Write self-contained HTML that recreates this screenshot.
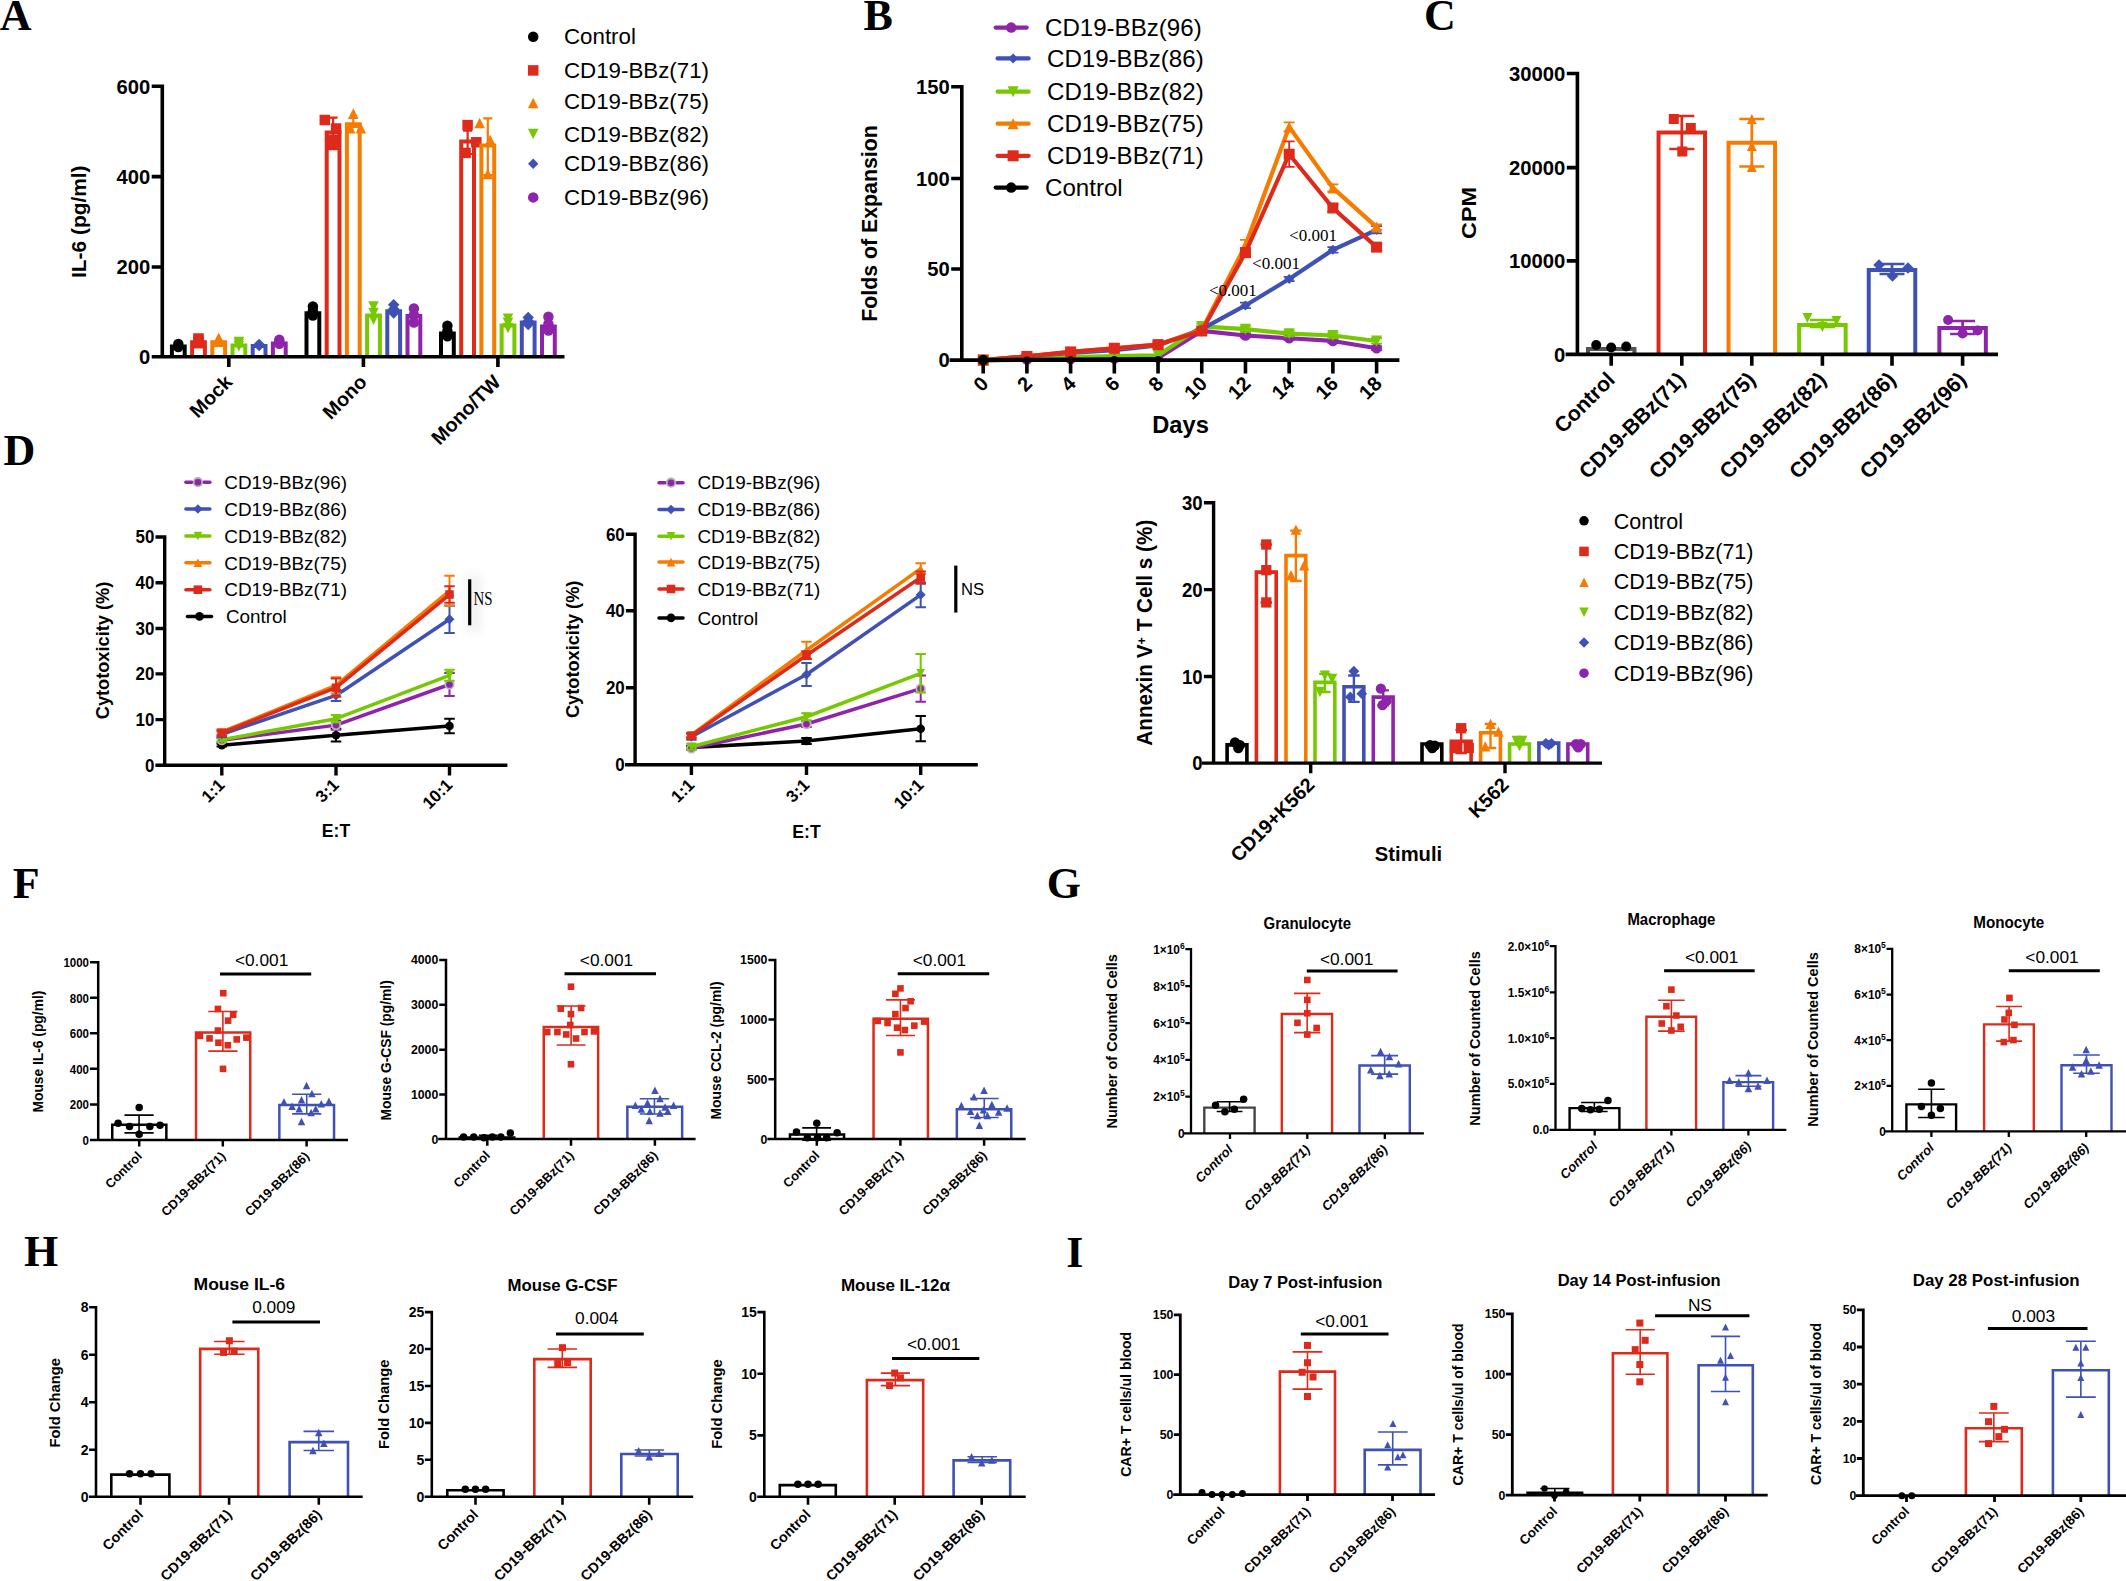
<!DOCTYPE html>
<html lang="en"><head><meta charset="utf-8"><title>Figure</title>
<style>
html,body{margin:0;padding:0;background:#fff}
svg{display:block}
text{font-family:"Liberation Sans",Arial,Helvetica,sans-serif;font-weight:700;fill:#000}
text.sf{font-family:"Liberation Serif","Times New Roman",Times,serif}
text.n{font-weight:400}
text.i{font-style:italic}
text.m{text-anchor:middle}
text.e{text-anchor:end}
</style></head>
<body>
<svg width="2126" height="1581" viewBox="0 0 2126 1581">
<rect width="2126" height="1581" fill="#fff"/>
<text class="sf" x="-0.3" y="29.7" font-size="44">A</text>
<text class="sf" x="863.5" y="29.7" font-size="44">B</text>
<text class="sf" x="1424" y="29.8" font-size="44">C</text>
<text class="sf" x="3.5" y="465" font-size="44">D</text>
<text class="sf" x="12.7" y="898" font-size="44">F</text>
<text class="sf" x="1046.8" y="898" font-size="44">G</text>
<text class="sf" x="24" y="1266.3" font-size="44">H</text>
<text class="sf" x="1066.2" y="1266.9" font-size="44">I</text>
<path d="M171.9 356.8V346.6H184.7V356.8" fill="none" stroke="#000000" stroke-width="4" stroke-linejoin="miter"/>
<circle cx="178.3" cy="344" r="5.25" fill="#000000"/>
<circle cx="178.3" cy="347" r="5.25" fill="#000000"/>
<path d="M192.1 356.8V342.3H204.9V356.8" fill="none" stroke="#DD2A1B" stroke-width="4" stroke-linejoin="miter"/>
<rect x="193.25" y="333.25" width="10.5" height="10.5" fill="#DD2A1B"/>
<rect x="193.25" y="335.75" width="10.5" height="10.5" fill="#DD2A1B"/>
<rect x="193.25" y="337.95" width="10.5" height="10.5" fill="#DD2A1B"/>
<path d="M212.3 356.8V342.3H225.1V356.8" fill="none" stroke="#F57C00" stroke-width="4" stroke-linejoin="miter"/>
<path d="M218.7 332.55L223.95 343.05H213.45Z" fill="#F57C00"/>
<path d="M218.7 334.75L223.95 345.25H213.45Z" fill="#F57C00"/>
<path d="M218.7 336.55L223.95 347.05H213.45Z" fill="#F57C00"/>
<path d="M232.5 356.8V345.4H245.3V356.8" fill="none" stroke="#76C800" stroke-width="4" stroke-linejoin="miter"/>
<path d="M238.9 347.15L244.15 336.65H233.65Z" fill="#76C800"/>
<path d="M238.9 349.25L244.15 338.75H233.65Z" fill="#76C800"/>
<path d="M238.9 351.55L244.15 341.05H233.65Z" fill="#76C800"/>
<path d="M252.7 356.8V346H265.5V356.8" fill="none" stroke="#3F51B5" stroke-width="4" stroke-linejoin="miter"/>
<path d="M259.1 338.65L264.85 344.4L259.1 350.15L253.35 344.4Z" fill="#3F51B5"/>
<path d="M259.1 339.65L264.85 345.4L259.1 351.15L253.35 345.4Z" fill="#3F51B5"/>
<path d="M272.9 356.8V343.5H285.7V356.8" fill="none" stroke="#8E24AA" stroke-width="4" stroke-linejoin="miter"/>
<circle cx="279.3" cy="339.8" r="5.25" fill="#8E24AA"/>
<circle cx="279.3" cy="342" r="5.25" fill="#8E24AA"/>
<circle cx="279.3" cy="343.7" r="5.25" fill="#8E24AA"/>
<path d="M306.5 356.8V313.2H319.3V356.8" fill="none" stroke="#000000" stroke-width="4" stroke-linejoin="miter"/>
<circle cx="312.9" cy="306.4" r="5.25" fill="#000000"/>
<circle cx="312.9" cy="311" r="5.25" fill="#000000"/>
<circle cx="312.9" cy="315.6" r="5.25" fill="#000000"/>
<path d="M326.7 356.8V132.5H339.5V356.8" fill="none" stroke="#DD2A1B" stroke-width="4" stroke-linejoin="miter"/>
<path d="M333.1 117.6V143M328.6 117.6H337.6M328.6 143H337.6" fill="none" stroke="#DD2A1B" stroke-width="2.2"/>
<rect x="319.55" y="114.75" width="10.5" height="10.5" fill="#DD2A1B"/>
<rect x="330.85" y="123.25" width="10.5" height="10.5" fill="#DD2A1B"/>
<rect x="327.85" y="134.75" width="10.5" height="10.5" fill="#DD2A1B"/>
<rect x="327.85" y="139.75" width="10.5" height="10.5" fill="#DD2A1B"/>
<path d="M346.9 356.8V124.3H359.7V356.8" fill="none" stroke="#F57C00" stroke-width="4" stroke-linejoin="miter"/>
<path d="M353.3 118V127M348.8 118H357.8M348.8 127H357.8" fill="none" stroke="#F57C00" stroke-width="2.2"/>
<path d="M353.3 108.35L358.55 118.85H348.05Z" fill="#F57C00"/>
<path d="M360.8 122.95L366.05 133.45H355.55Z" fill="#F57C00"/>
<path d="M350.3 122.95L355.55 133.45H345.05Z" fill="#F57C00"/>
<path d="M367.1 356.8V315.5H379.9V356.8" fill="none" stroke="#76C800" stroke-width="4" stroke-linejoin="miter"/>
<path d="M373.5 311.65L378.75 301.15H368.25Z" fill="#76C800"/>
<path d="M373.5 318.25L378.75 307.75H368.25Z" fill="#76C800"/>
<path d="M373.5 325.05L378.75 314.55H368.25Z" fill="#76C800"/>
<path d="M387.3 356.8V311.3H400.1V356.8" fill="none" stroke="#3F51B5" stroke-width="4" stroke-linejoin="miter"/>
<path d="M393.7 299.05L399.45 304.8L393.7 310.55L387.95 304.8Z" fill="#3F51B5"/>
<path d="M393.7 303.25L399.45 309L393.7 314.75L387.95 309Z" fill="#3F51B5"/>
<path d="M393.7 307.35L399.45 313.1L393.7 318.85L387.95 313.1Z" fill="#3F51B5"/>
<path d="M407.5 356.8V316H420.3V356.8" fill="none" stroke="#8E24AA" stroke-width="4" stroke-linejoin="miter"/>
<circle cx="413.9" cy="308.4" r="5.25" fill="#8E24AA"/>
<circle cx="413.9" cy="315" r="5.25" fill="#8E24AA"/>
<circle cx="413.9" cy="322.5" r="5.25" fill="#8E24AA"/>
<path d="M441 356.8V333.6H453.8V356.8" fill="none" stroke="#000000" stroke-width="4" stroke-linejoin="miter"/>
<circle cx="447.4" cy="325.8" r="5.25" fill="#000000"/>
<circle cx="447.4" cy="331" r="5.25" fill="#000000"/>
<circle cx="447.4" cy="336.3" r="5.25" fill="#000000"/>
<path d="M461.2 356.8V141.5H474V356.8" fill="none" stroke="#DD2A1B" stroke-width="4" stroke-linejoin="miter"/>
<path d="M467.6 130.6V154M463.1 130.6H472.1M463.1 154H472.1" fill="none" stroke="#DD2A1B" stroke-width="2.2"/>
<rect x="462.35" y="119.85" width="10.5" height="10.5" fill="#DD2A1B"/>
<rect x="471.05" y="137.05" width="10.5" height="10.5" fill="#DD2A1B"/>
<rect x="460.35" y="147.65" width="10.5" height="10.5" fill="#DD2A1B"/>
<path d="M481.4 356.8V145.5H494.2V356.8" fill="none" stroke="#F57C00" stroke-width="4" stroke-linejoin="miter"/>
<path d="M487.8 118.3V175.2M483.3 118.3H492.3M483.3 175.2H492.3" fill="none" stroke="#F57C00" stroke-width="2.2"/>
<path d="M479.6 117.75L484.85 128.25H474.35Z" fill="#F57C00"/>
<path d="M490.2 134.75L495.45 145.25H484.95Z" fill="#F57C00"/>
<path d="M487.8 168.75L493.05 179.25H482.55Z" fill="#F57C00"/>
<path d="M501.6 356.8V325.4H514.4V356.8" fill="none" stroke="#76C800" stroke-width="4" stroke-linejoin="miter"/>
<path d="M508 323.95L513.25 313.45H502.75Z" fill="#76C800"/>
<path d="M508 328.25L513.25 317.75H502.75Z" fill="#76C800"/>
<path d="M508 333.25L513.25 322.75H502.75Z" fill="#76C800"/>
<path d="M521.8 356.8V322.6H534.6V356.8" fill="none" stroke="#3F51B5" stroke-width="4" stroke-linejoin="miter"/>
<path d="M528.2 311.75L533.95 317.5L528.2 323.25L522.45 317.5Z" fill="#3F51B5"/>
<path d="M528.2 315.25L533.95 321L528.2 326.75L522.45 321Z" fill="#3F51B5"/>
<path d="M528.2 318.85L533.95 324.6L528.2 330.35L522.45 324.6Z" fill="#3F51B5"/>
<path d="M542 356.8V326.6H554.8V356.8" fill="none" stroke="#8E24AA" stroke-width="4" stroke-linejoin="miter"/>
<circle cx="548.4" cy="316.8" r="5.25" fill="#8E24AA"/>
<circle cx="548.4" cy="324" r="5.25" fill="#8E24AA"/>
<circle cx="548.4" cy="330.5" r="5.25" fill="#8E24AA"/>
<path d="M162.3 84.5V358.6M151.7 356.8H564.5M151.7 86.3H162.3M151.7 176.6H162.3M151.7 267H162.3M151.7 356.8H162.3M228.8 356.8V367.1M363.4 356.8V367.1M497.9 356.8V367.1" fill="none" stroke="#000" stroke-width="3.6"/>
<text class="e" x="150.2" y="93.53" font-size="20.2">600</text>
<text class="e" x="150.2" y="183.83" font-size="20.2">400</text>
<text class="e" x="150.2" y="274.23" font-size="20.2">200</text>
<text class="e" x="150.2" y="364.03" font-size="20.2">0</text>
<text class="e" transform="translate(233.4 383.3) rotate(-45)" font-size="19.7">Mock</text>
<text class="e" transform="translate(367.9 383.3) rotate(-45)" font-size="19.7">Mono</text>
<text class="e" transform="translate(502 383.3) rotate(-45)" font-size="19.7">Mono/TW</text>
<text class="m" transform="translate(85.67 221.7) rotate(-90)" font-size="20.9">IL-6 (pg/ml)</text>
<circle cx="533.2" cy="36.8" r="5.25" fill="#000000"/>
<text class="n" x="564" y="44.28" font-size="22.3">Control</text>
<rect x="527.95" y="65.15" width="10.5" height="10.5" fill="#DD2A1B"/>
<text class="n" x="564" y="77.88" font-size="22.3">CD19-BBz(71)</text>
<path d="M533.2 97.65L538.45 108.15H527.95Z" fill="#F57C00"/>
<text class="n" x="564" y="109.38" font-size="22.3">CD19-BBz(75)</text>
<path d="M533.2 139.35L538.45 128.85H527.95Z" fill="#76C800"/>
<text class="n" x="564" y="141.58" font-size="22.3">CD19-BBz(82)</text>
<path d="M533.2 158.5L538.4 163.7L533.2 168.9L528 163.7Z" fill="#3F51B5"/>
<text class="n" x="564" y="171.18" font-size="22.3">CD19-BBz(86)</text>
<circle cx="533.2" cy="197.4" r="5.25" fill="#8E24AA"/>
<text class="n" x="564" y="204.88" font-size="22.3">CD19-BBz(96)</text>
<polyline fill="none" stroke="#8E24AA" stroke-width="4.2" stroke-linejoin="round" points="983.2,360.1 1026.91,359.55 1070.62,359.01 1114.33,358.64 1158.04,357.91 1201.75,330.95 1245.46,335.5 1289.17,338.24 1332.88,340.97 1376.59,348.26"/>
<path d="M1201.75 329.13V332.77M1196.25 329.13H1207.25M1196.25 332.77H1207.25" fill="none" stroke="#8E24AA" stroke-width="1.8"/>
<path d="M1245.46 333.68V337.33M1239.96 333.68H1250.96M1239.96 337.33H1250.96" fill="none" stroke="#8E24AA" stroke-width="1.8"/>
<path d="M1289.17 336.41V340.06M1283.67 336.41H1294.67M1283.67 340.06H1294.67" fill="none" stroke="#8E24AA" stroke-width="1.8"/>
<path d="M1332.88 339.15V342.79M1327.38 339.15H1338.38M1327.38 342.79H1338.38" fill="none" stroke="#8E24AA" stroke-width="1.8"/>
<path d="M1376.59 346.44V350.08M1371.09 346.44H1382.09M1371.09 350.08H1382.09" fill="none" stroke="#8E24AA" stroke-width="1.8"/>
<circle cx="983.2" cy="360.1" r="5.25" fill="#8E24AA"/>
<circle cx="1026.91" cy="359.55" r="5.25" fill="#8E24AA"/>
<circle cx="1070.62" cy="359.01" r="5.25" fill="#8E24AA"/>
<circle cx="1114.33" cy="358.64" r="5.25" fill="#8E24AA"/>
<circle cx="1158.04" cy="357.91" r="5.25" fill="#8E24AA"/>
<circle cx="1201.75" cy="330.95" r="5.25" fill="#8E24AA"/>
<circle cx="1245.46" cy="335.5" r="5.25" fill="#8E24AA"/>
<circle cx="1289.17" cy="338.24" r="5.25" fill="#8E24AA"/>
<circle cx="1332.88" cy="340.97" r="5.25" fill="#8E24AA"/>
<circle cx="1376.59" cy="348.26" r="5.25" fill="#8E24AA"/>
<polyline fill="none" stroke="#76C800" stroke-width="4.2" stroke-linejoin="round" points="983.2,360.1 1026.91,358.64 1070.62,357.18 1114.33,356.09 1158.04,355.36 1201.75,326.39 1245.46,329.13 1289.17,333.68 1332.88,335.5 1376.59,340.97"/>
<path d="M1201.75 323.66V329.13M1196.25 323.66H1207.25M1196.25 329.13H1207.25" fill="none" stroke="#76C800" stroke-width="1.8"/>
<path d="M1245.46 326.39V331.86M1239.96 326.39H1250.96M1239.96 331.86H1250.96" fill="none" stroke="#76C800" stroke-width="1.8"/>
<path d="M1289.17 330.95V336.41M1283.67 330.95H1294.67M1283.67 336.41H1294.67" fill="none" stroke="#76C800" stroke-width="1.8"/>
<path d="M1332.88 332.77V338.24M1327.38 332.77H1338.38M1327.38 338.24H1338.38" fill="none" stroke="#76C800" stroke-width="1.8"/>
<path d="M1376.59 338.24V343.7M1371.09 338.24H1382.09M1371.09 343.7H1382.09" fill="none" stroke="#76C800" stroke-width="1.8"/>
<path d="M983.2 365.6L988.7 354.6H977.7Z" fill="#76C800"/>
<path d="M1026.91 364.14L1032.41 353.14H1021.41Z" fill="#76C800"/>
<path d="M1070.62 362.68L1076.12 351.68H1065.12Z" fill="#76C800"/>
<path d="M1114.33 361.59L1119.83 350.59H1108.83Z" fill="#76C800"/>
<path d="M1158.04 360.86L1163.54 349.86H1152.54Z" fill="#76C800"/>
<path d="M1201.75 331.89L1207.25 320.89H1196.25Z" fill="#76C800"/>
<path d="M1245.46 334.63L1250.96 323.63H1239.96Z" fill="#76C800"/>
<path d="M1289.17 339.18L1294.67 328.18H1283.67Z" fill="#76C800"/>
<path d="M1332.88 341L1338.38 330H1327.38Z" fill="#76C800"/>
<path d="M1376.59 346.47L1382.09 335.47H1371.09Z" fill="#76C800"/>
<polyline fill="none" stroke="#3F51B5" stroke-width="4.2" stroke-linejoin="round" points="983.2,360.1 1026.91,356.46 1070.62,352.81 1114.33,350.08 1158.04,345.52 1201.75,329.13 1245.46,305.44 1289.17,279.02 1332.88,249.87 1376.59,229.83"/>
<path d="M1245.46 302.71V308.17M1239.96 302.71H1250.96M1239.96 308.17H1250.96" fill="none" stroke="#3F51B5" stroke-width="1.8"/>
<path d="M1289.17 276.83V281.21M1283.67 276.83H1294.67M1283.67 281.21H1294.67" fill="none" stroke="#3F51B5" stroke-width="1.8"/>
<path d="M1332.88 247.14V252.6M1327.38 247.14H1338.38M1327.38 252.6H1338.38" fill="none" stroke="#3F51B5" stroke-width="1.8"/>
<path d="M1376.59 226.18V233.47M1371.09 226.18H1382.09M1371.09 233.47H1382.09" fill="none" stroke="#3F51B5" stroke-width="1.8"/>
<path d="M983.2 355.1L988.2 360.1L983.2 365.1L978.2 360.1Z" fill="#3F51B5"/>
<path d="M1026.91 351.46L1031.91 356.46L1026.91 361.46L1021.91 356.46Z" fill="#3F51B5"/>
<path d="M1070.62 347.81L1075.62 352.81L1070.62 357.81L1065.62 352.81Z" fill="#3F51B5"/>
<path d="M1114.33 345.08L1119.33 350.08L1114.33 355.08L1109.33 350.08Z" fill="#3F51B5"/>
<path d="M1158.04 340.52L1163.04 345.52L1158.04 350.52L1153.04 345.52Z" fill="#3F51B5"/>
<path d="M1201.75 324.13L1206.75 329.13L1201.75 334.13L1196.75 329.13Z" fill="#3F51B5"/>
<path d="M1245.46 300.44L1250.46 305.44L1245.46 310.44L1240.46 305.44Z" fill="#3F51B5"/>
<path d="M1289.17 274.02L1294.17 279.02L1289.17 284.02L1284.17 279.02Z" fill="#3F51B5"/>
<path d="M1332.88 244.87L1337.88 249.87L1332.88 254.87L1327.88 249.87Z" fill="#3F51B5"/>
<path d="M1376.59 224.83L1381.59 229.83L1376.59 234.83L1371.59 229.83Z" fill="#3F51B5"/>
<polyline fill="none" stroke="#F57C00" stroke-width="4.2" stroke-linejoin="round" points="983.2,360.1 1026.91,356.46 1070.62,351.9 1114.33,348.26 1158.04,344.61 1201.75,330.04 1245.46,245.31 1289.17,126.88 1332.88,187.92 1376.59,227.09"/>
<path d="M1245.46 239.85V250.78M1239.96 239.85H1250.96M1239.96 250.78H1250.96" fill="none" stroke="#F57C00" stroke-width="1.8"/>
<path d="M1289.17 122.33V131.44M1283.67 122.33H1294.67M1283.67 131.44H1294.67" fill="none" stroke="#F57C00" stroke-width="1.8"/>
<path d="M1332.88 184.28V191.57M1327.38 184.28H1338.38M1327.38 191.57H1338.38" fill="none" stroke="#F57C00" stroke-width="1.8"/>
<path d="M1376.59 224.36V229.83M1371.09 224.36H1382.09M1371.09 229.83H1382.09" fill="none" stroke="#F57C00" stroke-width="1.8"/>
<path d="M983.2 354.6L988.7 365.6H977.7Z" fill="#F57C00"/>
<path d="M1026.91 350.96L1032.41 361.96H1021.41Z" fill="#F57C00"/>
<path d="M1070.62 346.4L1076.12 357.4H1065.12Z" fill="#F57C00"/>
<path d="M1114.33 342.76L1119.83 353.76H1108.83Z" fill="#F57C00"/>
<path d="M1158.04 339.11L1163.54 350.11H1152.54Z" fill="#F57C00"/>
<path d="M1201.75 324.54L1207.25 335.54H1196.25Z" fill="#F57C00"/>
<path d="M1245.46 239.81L1250.96 250.81H1239.96Z" fill="#F57C00"/>
<path d="M1289.17 121.38L1294.67 132.38H1283.67Z" fill="#F57C00"/>
<path d="M1332.88 182.42L1338.38 193.42H1327.38Z" fill="#F57C00"/>
<path d="M1376.59 221.59L1382.09 232.59H1371.09Z" fill="#F57C00"/>
<polyline fill="none" stroke="#DD2A1B" stroke-width="4.2" stroke-linejoin="round" points="983.2,360.1 1026.91,356.46 1070.62,351.9 1114.33,348.26 1158.04,344.61 1201.75,330.95 1245.46,252.6 1289.17,154.21 1332.88,207.96 1376.59,247.14"/>
<path d="M1026.91 354.63V358.28M1021.41 354.63H1032.41M1021.41 358.28H1032.41" fill="none" stroke="#DD2A1B" stroke-width="1.8"/>
<path d="M1070.62 350.08V353.72M1065.12 350.08H1076.12M1065.12 353.72H1076.12" fill="none" stroke="#DD2A1B" stroke-width="1.8"/>
<path d="M1114.33 346.44V350.08M1108.83 346.44H1119.83M1108.83 350.08H1119.83" fill="none" stroke="#DD2A1B" stroke-width="1.8"/>
<path d="M1158.04 341.88V347.35M1152.54 341.88H1163.54M1152.54 347.35H1163.54" fill="none" stroke="#DD2A1B" stroke-width="1.8"/>
<path d="M1201.75 329.13V332.77M1196.25 329.13H1207.25M1196.25 332.77H1207.25" fill="none" stroke="#DD2A1B" stroke-width="1.8"/>
<path d="M1245.46 248.05V257.16M1239.96 248.05H1250.96M1239.96 257.16H1250.96" fill="none" stroke="#DD2A1B" stroke-width="1.8"/>
<path d="M1289.17 141.46V166.97M1283.67 141.46H1294.67M1283.67 166.97H1294.67" fill="none" stroke="#DD2A1B" stroke-width="1.8"/>
<path d="M1332.88 204.32V211.61M1327.38 204.32H1338.38M1327.38 211.61H1338.38" fill="none" stroke="#DD2A1B" stroke-width="1.8"/>
<path d="M1376.59 243.49V250.78M1371.09 243.49H1382.09M1371.09 250.78H1382.09" fill="none" stroke="#DD2A1B" stroke-width="1.8"/>
<rect x="977.7" y="354.6" width="11" height="11" fill="#DD2A1B"/>
<rect x="1021.41" y="350.96" width="11" height="11" fill="#DD2A1B"/>
<rect x="1065.12" y="346.4" width="11" height="11" fill="#DD2A1B"/>
<rect x="1108.83" y="342.76" width="11" height="11" fill="#DD2A1B"/>
<rect x="1152.54" y="339.11" width="11" height="11" fill="#DD2A1B"/>
<rect x="1196.25" y="325.45" width="11" height="11" fill="#DD2A1B"/>
<rect x="1239.96" y="247.1" width="11" height="11" fill="#DD2A1B"/>
<rect x="1283.67" y="148.71" width="11" height="11" fill="#DD2A1B"/>
<rect x="1327.38" y="202.46" width="11" height="11" fill="#DD2A1B"/>
<rect x="1371.09" y="241.64" width="11" height="11" fill="#DD2A1B"/>
<polyline fill="none" stroke="#000000" stroke-width="4.2" stroke-linejoin="round" points="983.2,360.1 1026.91,359.74 1070.62,359.55 1114.33,359.37 1158.04,359.19"/>
<circle cx="983.2" cy="360.1" r="5.25" fill="#000000"/>
<circle cx="1026.91" cy="359.74" r="3.25" fill="#000000"/>
<circle cx="1070.62" cy="359.55" r="3.25" fill="#000000"/>
<circle cx="1114.33" cy="359.37" r="3.25" fill="#000000"/>
<circle cx="1158.04" cy="359.19" r="3.25" fill="#000000"/>
<path d="M961.8 85V361.9M949.6 360.1H1399.4M951.2 86.8H961.8M951.2 178.5H961.8M951.2 269H961.8M951.2 360.1H961.8M983.2 360.1V373.4M1026.91 360.1V373.4M1070.62 360.1V373.4M1114.33 360.1V373.4M1158.04 360.1V373.4M1201.75 360.1V373.4M1245.46 360.1V373.4M1289.17 360.1V373.4M1332.88 360.1V373.4M1376.59 360.1V373.4" fill="none" stroke="#000" stroke-width="3.6"/>
<text class="e" x="949.7" y="94.03" font-size="20.2">150</text>
<text class="e" x="949.7" y="185.73" font-size="20.2">100</text>
<text class="e" x="949.7" y="276.23" font-size="20.2">50</text>
<text class="e" x="949.7" y="367.33" font-size="20.2">0</text>
<text class="e" transform="translate(989.7 385) rotate(-45)" font-size="20">0</text>
<text class="e" transform="translate(1033.41 385) rotate(-45)" font-size="20">2</text>
<text class="e" transform="translate(1077.12 385) rotate(-45)" font-size="20">4</text>
<text class="e" transform="translate(1120.83 385) rotate(-45)" font-size="20">6</text>
<text class="e" transform="translate(1164.54 385) rotate(-45)" font-size="20">8</text>
<text class="e" transform="translate(1208.25 385) rotate(-45)" font-size="20">10</text>
<text class="e" transform="translate(1251.96 385) rotate(-45)" font-size="20">12</text>
<text class="e" transform="translate(1295.67 385) rotate(-45)" font-size="20">14</text>
<text class="e" transform="translate(1339.38 385) rotate(-45)" font-size="20">16</text>
<text class="e" transform="translate(1383.09 385) rotate(-45)" font-size="20">18</text>
<text class="m" x="1180.5" y="432.7" font-size="23.7">Days</text>
<text class="m" transform="translate(877.39 223.5) rotate(-90)" font-size="21.3">Folds of Expansion</text>
<line x1="995.7" y1="27.6" x2="1026.7" y2="27.6" stroke="#8E24AA" stroke-width="4.2" stroke-linecap="round"/>
<circle cx="1011.2" cy="27.6" r="5.25" fill="#8E24AA"/>
<text class="n" x="1045" y="36.23" font-size="24.1">CD19-BBz(96)</text>
<line x1="997.6" y1="58.4" x2="1028.6" y2="58.4" stroke="#3F51B5" stroke-width="4.2" stroke-linecap="round"/>
<path d="M1013.1 53.4L1018.1 58.4L1013.1 63.4L1008.1 58.4Z" fill="#3F51B5"/>
<text class="n" x="1047" y="67.03" font-size="24.1">CD19-BBz(86)</text>
<line x1="997.6" y1="91.7" x2="1028.6" y2="91.7" stroke="#76C800" stroke-width="4.2" stroke-linecap="round"/>
<path d="M1013.1 97.2L1018.6 86.2H1007.6Z" fill="#76C800"/>
<text class="n" x="1047" y="100.33" font-size="24.1">CD19-BBz(82)</text>
<line x1="997.6" y1="123.7" x2="1028.6" y2="123.7" stroke="#F57C00" stroke-width="4.2" stroke-linecap="round"/>
<path d="M1013.1 118.2L1018.6 129.2H1007.6Z" fill="#F57C00"/>
<text class="n" x="1047" y="132.33" font-size="24.1">CD19-BBz(75)</text>
<line x1="997.6" y1="155.8" x2="1028.6" y2="155.8" stroke="#DD2A1B" stroke-width="4.2" stroke-linecap="round"/>
<rect x="1007.6" y="150.3" width="11" height="11" fill="#DD2A1B"/>
<text class="n" x="1047" y="164.43" font-size="24.1">CD19-BBz(71)</text>
<line x1="995.7" y1="187.6" x2="1026.7" y2="187.6" stroke="#000000" stroke-width="4.2" stroke-linecap="round"/>
<circle cx="1011.2" cy="187.6" r="5.25" fill="#000000"/>
<text class="n" x="1045" y="196.23" font-size="24.1">Control</text>
<text class="sf n m" x="1232.8" y="296.39" font-size="17">&lt;0.001</text>
<text class="sf n m" x="1276" y="269.39" font-size="17">&lt;0.001</text>
<text class="sf n m" x="1313" y="240.89" font-size="17">&lt;0.001</text>
<path d="M1587.95 354.4V349H1634.45V354.4" fill="none" stroke="#555" stroke-width="4" stroke-linejoin="miter"/>
<circle cx="1596.2" cy="345" r="5" fill="#000000"/>
<circle cx="1611.2" cy="347.5" r="5" fill="#000000"/>
<circle cx="1626.2" cy="346.5" r="5" fill="#000000"/>
<path d="M1658.55 354.4V132.6H1705.05V354.4" fill="none" stroke="#DD2A1B" stroke-width="4" stroke-linejoin="miter"/>
<path d="M1681.8 116V149M1669.3 116H1694.3M1669.3 149H1694.3" fill="none" stroke="#DD2A1B" stroke-width="2.7"/>
<rect x="1668.8" y="114" width="10" height="10" fill="#DD2A1B"/>
<rect x="1685.8" y="123" width="10" height="10" fill="#DD2A1B"/>
<rect x="1677.3" y="146.5" width="10" height="10" fill="#DD2A1B"/>
<path d="M1728.55 354.4V142.8H1775.05V354.4" fill="none" stroke="#F57C00" stroke-width="4" stroke-linejoin="miter"/>
<path d="M1751.8 119V166.5M1739.3 119H1764.3M1739.3 166.5H1764.3" fill="none" stroke="#F57C00" stroke-width="2.7"/>
<path d="M1751.8 114L1756.8 124H1746.8Z" fill="#F57C00"/>
<path d="M1751.8 141L1756.8 151H1746.8Z" fill="#F57C00"/>
<path d="M1751.8 162L1756.8 172H1746.8Z" fill="#F57C00"/>
<path d="M1799.15 354.4V325H1845.65V354.4" fill="none" stroke="#76C800" stroke-width="4" stroke-linejoin="miter"/>
<path d="M1822.4 320V327M1809.9 320H1834.9M1809.9 327H1834.9" fill="none" stroke="#76C800" stroke-width="2.7"/>
<path d="M1807.4 323L1812.4 313H1802.4Z" fill="#76C800"/>
<path d="M1822.4 332L1827.4 322H1817.4Z" fill="#76C800"/>
<path d="M1836.4 326L1841.4 316H1831.4Z" fill="#76C800"/>
<path d="M1868.75 354.4V270H1915.25V354.4" fill="none" stroke="#3F51B5" stroke-width="4" stroke-linejoin="miter"/>
<path d="M1892 264V274M1879.5 264H1904.5M1879.5 274H1904.5" fill="none" stroke="#3F51B5" stroke-width="2.7"/>
<path d="M1879 259.25L1884.75 265L1879 270.75L1873.25 265Z" fill="#3F51B5"/>
<path d="M1908 262.25L1913.75 268L1908 273.75L1902.25 268Z" fill="#3F51B5"/>
<path d="M1892.5 270.25L1898.25 276L1892.5 281.75L1886.75 276Z" fill="#3F51B5"/>
<path d="M1939.35 354.4V328H1985.85V354.4" fill="none" stroke="#8E24AA" stroke-width="4" stroke-linejoin="miter"/>
<path d="M1962.6 321V334M1950.1 321H1975.1M1950.1 334H1975.1" fill="none" stroke="#8E24AA" stroke-width="2.7"/>
<circle cx="1948.1" cy="320" r="5" fill="#8E24AA"/>
<circle cx="1962.6" cy="333.5" r="5" fill="#8E24AA"/>
<circle cx="1977.6" cy="330.5" r="5" fill="#8E24AA"/>
<path d="M1577.4 71.7V356.2M1565.6 354.4H1998M1566.8 73.5H1577.4M1566.8 167.6H1577.4M1566.8 260.9H1577.4M1566.8 354.4H1577.4M1611.2 354.4V365.7M1681.8 354.4V365.7M1751.8 354.4V365.7M1822.4 354.4V365.7M1892 354.4V365.7M1962.6 354.4V365.7" fill="none" stroke="#000" stroke-width="3.6"/>
<text class="e" x="1565.3" y="80.77" font-size="20.3">30000</text>
<text class="e" x="1565.3" y="174.87" font-size="20.3">20000</text>
<text class="e" x="1565.3" y="268.17" font-size="20.3">10000</text>
<text class="e" x="1565.3" y="361.67" font-size="20.3">0</text>
<text class="e" transform="translate(1616.2 381) rotate(-45)" font-size="21.2">Control</text>
<text class="e" transform="translate(1686.8 381) rotate(-45)" font-size="21.2">CD19-BBz(71)</text>
<text class="e" transform="translate(1756.8 381) rotate(-45)" font-size="21.2">CD19-BBz(75)</text>
<text class="e" transform="translate(1827.4 381) rotate(-45)" font-size="21.2">CD19-BBz(82)</text>
<text class="e" transform="translate(1897 381) rotate(-45)" font-size="21.2">CD19-BBz(86)</text>
<text class="e" transform="translate(1967.6 381) rotate(-45)" font-size="21.2">CD19-BBz(96)</text>
<text class="m" transform="translate(1476.38 213) rotate(-90)" font-size="20.5" textLength="52" lengthAdjust="spacingAndGlyphs">CPM</text>
<defs><filter id="bl" x="-50%" y="-50%" width="200%" height="200%"><feGaussianBlur stdDeviation="4"/></filter></defs>
<rect x="466" y="574" width="16" height="58" fill="#f3f3f3" filter="url(#bl)"/>
<path d="M221.8 743.84V746.58M216.55 743.84H227.05M216.55 746.58H227.05" fill="none" stroke="#000000" stroke-width="2"/>
<path d="M336 728.77V741.56M330.75 728.77H341.25M330.75 741.56H341.25" fill="none" stroke="#000000" stroke-width="2"/>
<path d="M449.5 718.73V733.34M444.25 718.73H454.75M444.25 733.34H454.75" fill="none" stroke="#000000" stroke-width="2"/>
<polyline fill="none" stroke="#000000" stroke-width="3.5" stroke-linejoin="round" points="221.8,745.21 336,735.16 449.5,726.03"/>
<circle cx="221.8" cy="745.21" r="4.25" fill="#000000"/>
<circle cx="336" cy="735.16" r="4.25" fill="#000000"/>
<circle cx="449.5" cy="726.03" r="4.25" fill="#000000"/>
<path d="M221.8 737.9V742.47M216.55 737.9H227.05M216.55 742.47H227.05" fill="none" stroke="#8E24AA" stroke-width="2"/>
<path d="M336 720.55V729.69M330.75 720.55H341.25M330.75 729.69H341.25" fill="none" stroke="#8E24AA" stroke-width="2"/>
<path d="M449.5 673.07V695.9M444.25 673.07H454.75M444.25 695.9H454.75" fill="none" stroke="#8E24AA" stroke-width="2"/>
<polyline fill="none" stroke="#8E24AA" stroke-width="3.5" stroke-linejoin="round" points="221.8,740.19 336,725.12 449.5,684.48"/>
<circle cx="221.8" cy="740.19" r="4.25" fill="#8E24AA" stroke="#b9b9b9" stroke-width="1.8"/>
<circle cx="336" cy="725.12" r="4.25" fill="#8E24AA" stroke="#b9b9b9" stroke-width="1.8"/>
<circle cx="449.5" cy="684.48" r="4.25" fill="#8E24AA" stroke="#b9b9b9" stroke-width="1.8"/>
<path d="M221.8 737.9V741.56M216.55 737.9H227.05M216.55 741.56H227.05" fill="none" stroke="#76C800" stroke-width="2"/>
<path d="M336 715.07V722.38M330.75 715.07H341.25M330.75 722.38H341.25" fill="none" stroke="#76C800" stroke-width="2"/>
<path d="M449.5 669.87V680.83M444.25 669.87H454.75M444.25 680.83H454.75" fill="none" stroke="#76C800" stroke-width="2"/>
<polyline fill="none" stroke="#76C800" stroke-width="3.5" stroke-linejoin="round" points="221.8,739.73 336,718.73 449.5,675.35"/>
<path d="M221.8 743.98L226.05 735.48H217.55Z" fill="#76C800"/>
<path d="M336 722.98L340.25 714.48H331.75Z" fill="#76C800"/>
<path d="M449.5 679.6L453.75 671.1H445.25Z" fill="#76C800"/>
<path d="M221.8 731.51V736.99M216.55 731.51H227.05M216.55 736.99H227.05" fill="none" stroke="#3F51B5" stroke-width="2"/>
<path d="M336 689.96V700.92M330.75 689.96H341.25M330.75 700.92H341.25" fill="none" stroke="#3F51B5" stroke-width="2"/>
<path d="M449.5 605.49V632.89M444.25 605.49H454.75M444.25 632.89H454.75" fill="none" stroke="#3F51B5" stroke-width="2"/>
<polyline fill="none" stroke="#3F51B5" stroke-width="3.5" stroke-linejoin="round" points="221.8,734.25 336,695.44 449.5,619.19"/>
<path d="M221.8 729.25L226.8 734.25L221.8 739.25L216.8 734.25Z" fill="#3F51B5"/>
<path d="M336 690.44L341 695.44L336 700.44L331 695.44Z" fill="#3F51B5"/>
<path d="M449.5 614.19L454.5 619.19L449.5 624.19L444.5 619.19Z" fill="#3F51B5"/>
<path d="M221.8 729.23V734.71M216.55 729.23H227.05M216.55 734.71H227.05" fill="none" stroke="#F57C00" stroke-width="2"/>
<path d="M336 677.18V693.61M330.75 677.18H341.25M330.75 693.61H341.25" fill="none" stroke="#F57C00" stroke-width="2"/>
<path d="M449.5 575.81V605.95M444.25 575.81H454.75M444.25 605.95H454.75" fill="none" stroke="#F57C00" stroke-width="2"/>
<polyline fill="none" stroke="#F57C00" stroke-width="3.5" stroke-linejoin="round" points="221.8,731.97 336,685.39 449.5,590.88"/>
<path d="M221.8 727.72L226.05 736.22H217.55Z" fill="#F57C00"/>
<path d="M336 681.14L340.25 689.64H331.75Z" fill="#F57C00"/>
<path d="M449.5 586.63L453.75 595.13H445.25Z" fill="#F57C00"/>
<path d="M221.8 730.14V735.62M216.55 730.14H227.05M216.55 735.62H227.05" fill="none" stroke="#DD2A1B" stroke-width="2"/>
<path d="M336 678.55V696.81M330.75 678.55H341.25M330.75 696.81H341.25" fill="none" stroke="#DD2A1B" stroke-width="2"/>
<path d="M449.5 586.31V602.75M444.25 586.31H454.75M444.25 602.75H454.75" fill="none" stroke="#DD2A1B" stroke-width="2"/>
<polyline fill="none" stroke="#DD2A1B" stroke-width="3.5" stroke-linejoin="round" points="221.8,732.88 336,687.68 449.5,594.53"/>
<rect x="217.55" y="728.63" width="8.5" height="8.5" fill="#DD2A1B"/>
<rect x="331.75" y="683.43" width="8.5" height="8.5" fill="#DD2A1B"/>
<rect x="445.25" y="590.28" width="8.5" height="8.5" fill="#DD2A1B"/>
<path d="M164.7 535.3V767M155.4 765.3H507.4M155.5 537H164.7M155.5 582.8H164.7M155.5 628.5H164.7M155.5 673.9H164.7M155.5 719.6H164.7M155.5 765.3H164.7M221.8 765.3V775.5M336 765.3V775.5M449.5 765.3V775.5" fill="none" stroke="#000" stroke-width="3.4"/>
<text class="e" transform="translate(154.3 543.44) scale(0.94 1)" font-size="18">50</text>
<text class="e" transform="translate(154.3 589.24) scale(0.94 1)" font-size="18">40</text>
<text class="e" transform="translate(154.3 634.94) scale(0.94 1)" font-size="18">30</text>
<text class="e" transform="translate(154.3 680.34) scale(0.94 1)" font-size="18">20</text>
<text class="e" transform="translate(154.3 726.04) scale(0.94 1)" font-size="18">10</text>
<text class="e" transform="translate(154.3 771.74) scale(0.94 1)" font-size="18">0</text>
<text class="e" transform="translate(225.8 786) rotate(-45)" font-size="17">1:1</text>
<text class="e" transform="translate(340 786) rotate(-45)" font-size="17">3:1</text>
<text class="e" transform="translate(453.5 786) rotate(-45)" font-size="17">10:1</text>
<text class="m" x="336" y="837.3" font-size="17.6">E:T</text>
<text class="m" transform="translate(108.51 650.5) rotate(-90)" font-size="18.2">Cytotoxicity (%)</text>
<line x1="185.9" y1="482.2" x2="191.9" y2="482.2" stroke="#8E24AA" stroke-width="3.5" stroke-linecap="round"/>
<line x1="203.9" y1="482.2" x2="209.9" y2="482.2" stroke="#8E24AA" stroke-width="3.5" stroke-linecap="round"/>
<circle cx="197.9" cy="482.2" r="4.2" fill="#8E24AA" stroke="#b0b0b0" stroke-width="1.8"/>
<text class="n" x="224.3" y="488.97" font-size="18.9">CD19-BBz(96)</text>
<line x1="185.9" y1="509.1" x2="209.9" y2="509.1" stroke="#3F51B5" stroke-width="3.5" stroke-linecap="round"/>
<path d="M197.9 504.35L202.65 509.1L197.9 513.85L193.15 509.1Z" fill="#3F51B5"/>
<text class="n" x="224.3" y="515.87" font-size="18.9">CD19-BBz(86)</text>
<line x1="185.9" y1="536" x2="209.9" y2="536" stroke="#76C800" stroke-width="3.5" stroke-linecap="round"/>
<path d="M197.9 540.3L202.2 531.7H193.6Z" fill="#76C800"/>
<text class="n" x="224.3" y="542.77" font-size="18.9">CD19-BBz(82)</text>
<line x1="185.9" y1="562.8" x2="209.9" y2="562.8" stroke="#F57C00" stroke-width="3.5" stroke-linecap="round"/>
<path d="M197.9 558.5L202.2 567.1H193.6Z" fill="#F57C00"/>
<text class="n" x="224.3" y="569.57" font-size="18.9">CD19-BBz(75)</text>
<line x1="185.9" y1="589.7" x2="209.9" y2="589.7" stroke="#DD2A1B" stroke-width="3.5" stroke-linecap="round"/>
<rect x="193.6" y="585.4" width="8.6" height="8.6" fill="#DD2A1B"/>
<text class="n" x="224.3" y="596.47" font-size="18.9">CD19-BBz(71)</text>
<line x1="187.5" y1="616.4" x2="211.5" y2="616.4" stroke="#000000" stroke-width="3.5" stroke-linecap="round"/>
<circle cx="199.5" cy="616.4" r="4.3" fill="#000000"/>
<text class="n" x="225.9" y="623.17" font-size="18.9">Control</text>
<line x1="469.7" y1="579.3" x2="469.7" y2="625.3" stroke="#000000" stroke-width="3.2"/>
<text class="sf n" transform="translate(473.6 604.6) scale(0.82 1)" font-size="18.2">NS</text>
<path d="M691.4 745.96V749.04M686.15 745.96H696.65M686.15 749.04H696.65" fill="none" stroke="#000000" stroke-width="2"/>
<path d="M806.5 737.88V744.04M801.25 737.88H811.75M801.25 744.04H811.75" fill="none" stroke="#000000" stroke-width="2"/>
<path d="M920.7 715.97V741.35M915.45 715.97H925.95M915.45 741.35H925.95" fill="none" stroke="#000000" stroke-width="2"/>
<polyline fill="none" stroke="#000000" stroke-width="3.5" stroke-linejoin="round" points="691.4,747.5 806.5,740.96 920.7,728.66"/>
<circle cx="691.4" cy="747.5" r="4.25" fill="#000000"/>
<circle cx="806.5" cy="740.96" r="4.25" fill="#000000"/>
<circle cx="920.7" cy="728.66" r="4.25" fill="#000000"/>
<path d="M691.4 747.11V749.42M686.15 747.11H696.65M686.15 749.42H696.65" fill="none" stroke="#8E24AA" stroke-width="2"/>
<path d="M806.5 720.97V727.12M801.25 720.97H811.75M801.25 727.12H811.75" fill="none" stroke="#8E24AA" stroke-width="2"/>
<path d="M920.7 675.6V701.74M915.45 675.6H925.95M915.45 701.74H925.95" fill="none" stroke="#8E24AA" stroke-width="2"/>
<polyline fill="none" stroke="#8E24AA" stroke-width="3.5" stroke-linejoin="round" points="691.4,748.27 806.5,724.04 920.7,688.67"/>
<circle cx="691.4" cy="748.27" r="4.25" fill="#8E24AA" stroke="#b9b9b9" stroke-width="1.8"/>
<circle cx="806.5" cy="724.04" r="4.25" fill="#8E24AA" stroke="#b9b9b9" stroke-width="1.8"/>
<circle cx="920.7" cy="688.67" r="4.25" fill="#8E24AA" stroke="#b9b9b9" stroke-width="1.8"/>
<path d="M691.4 743.65V749.8M686.15 743.65H696.65M686.15 749.8H696.65" fill="none" stroke="#76C800" stroke-width="2"/>
<path d="M806.5 713.28V720.2M801.25 713.28H811.75M801.25 720.2H811.75" fill="none" stroke="#76C800" stroke-width="2"/>
<path d="M920.7 654.06V692.51M915.45 654.06H925.95M915.45 692.51H925.95" fill="none" stroke="#76C800" stroke-width="2"/>
<polyline fill="none" stroke="#76C800" stroke-width="3.5" stroke-linejoin="round" points="691.4,746.73 806.5,716.74 920.7,673.29"/>
<path d="M691.4 750.98L695.65 742.48H687.15Z" fill="#76C800"/>
<path d="M806.5 720.99L810.75 712.49H802.25Z" fill="#76C800"/>
<path d="M920.7 677.54L924.95 669.04H916.45Z" fill="#76C800"/>
<path d="M691.4 733.66V739.81M686.15 733.66H696.65M686.15 739.81H696.65" fill="none" stroke="#3F51B5" stroke-width="2"/>
<path d="M806.5 662.91V685.98M801.25 662.91H811.75M801.25 685.98H811.75" fill="none" stroke="#3F51B5" stroke-width="2"/>
<path d="M920.7 582.55V607.15M915.45 582.55H925.95M915.45 607.15H925.95" fill="none" stroke="#3F51B5" stroke-width="2"/>
<polyline fill="none" stroke="#3F51B5" stroke-width="3.5" stroke-linejoin="round" points="691.4,736.73 806.5,674.44 920.7,594.85"/>
<path d="M691.4 731.73L696.4 736.73L691.4 741.73L686.4 736.73Z" fill="#3F51B5"/>
<path d="M806.5 669.44L811.5 674.44L806.5 679.44L801.5 674.44Z" fill="#3F51B5"/>
<path d="M920.7 589.85L925.7 594.85L920.7 599.85L915.7 594.85Z" fill="#3F51B5"/>
<path d="M691.4 732.89V736.73M686.15 732.89H696.65M686.15 736.73H696.65" fill="none" stroke="#F57C00" stroke-width="2"/>
<path d="M806.5 641.76V658.68M801.25 641.76H811.75M801.25 658.68H811.75" fill="none" stroke="#F57C00" stroke-width="2"/>
<path d="M920.7 563.32V574.09M915.45 563.32H925.95M915.45 574.09H925.95" fill="none" stroke="#F57C00" stroke-width="2"/>
<polyline fill="none" stroke="#F57C00" stroke-width="3.5" stroke-linejoin="round" points="691.4,734.81 806.5,650.22 920.7,568.7"/>
<path d="M691.4 730.56L695.65 739.06H687.15Z" fill="#F57C00"/>
<path d="M806.5 645.97L810.75 654.47H802.25Z" fill="#F57C00"/>
<path d="M920.7 564.45L924.95 572.95H916.45Z" fill="#F57C00"/>
<path d="M691.4 733.27V737.88M686.15 733.27H696.65M686.15 737.88H696.65" fill="none" stroke="#DD2A1B" stroke-width="2"/>
<path d="M806.5 651.37V659.06M801.25 651.37H811.75M801.25 659.06H811.75" fill="none" stroke="#DD2A1B" stroke-width="2"/>
<path d="M920.7 571.4V583.7M915.45 571.4H925.95M915.45 583.7H925.95" fill="none" stroke="#DD2A1B" stroke-width="2"/>
<polyline fill="none" stroke="#DD2A1B" stroke-width="3.5" stroke-linejoin="round" points="691.4,735.58 806.5,655.22 920.7,577.55"/>
<rect x="687.15" y="731.33" width="8.5" height="8.5" fill="#DD2A1B"/>
<rect x="802.25" y="650.97" width="8.5" height="8.5" fill="#DD2A1B"/>
<rect x="916.45" y="573.3" width="8.5" height="8.5" fill="#DD2A1B"/>
<path d="M635.1 532.5V766.5M625 764.8H977.8M625.9 534.2H635.1M625.9 610.7H635.1M625.9 687.8H635.1M625.9 764.8H635.1M691.4 764.8V775M806.5 764.8V775M920.7 764.8V775" fill="none" stroke="#000" stroke-width="3.4"/>
<text class="e" transform="translate(624.7 540.64) scale(0.94 1)" font-size="18">60</text>
<text class="e" transform="translate(624.7 617.14) scale(0.94 1)" font-size="18">40</text>
<text class="e" transform="translate(624.7 694.24) scale(0.94 1)" font-size="18">20</text>
<text class="e" transform="translate(624.7 771.24) scale(0.94 1)" font-size="18">0</text>
<text class="e" transform="translate(695.4 786) rotate(-45)" font-size="17">1:1</text>
<text class="e" transform="translate(810.5 786) rotate(-45)" font-size="17">3:1</text>
<text class="e" transform="translate(924.7 786) rotate(-45)" font-size="17">10:1</text>
<text class="m" x="806.5" y="838.1" font-size="17.6">E:T</text>
<text class="m" transform="translate(578.91 649.3) rotate(-90)" font-size="18.2">Cytotoxicity (%)</text>
<line x1="659" y1="482.7" x2="665" y2="482.7" stroke="#8E24AA" stroke-width="3.5" stroke-linecap="round"/>
<line x1="677" y1="482.7" x2="683" y2="482.7" stroke="#8E24AA" stroke-width="3.5" stroke-linecap="round"/>
<circle cx="671" cy="482.7" r="4.2" fill="#8E24AA" stroke="#b0b0b0" stroke-width="1.8"/>
<text class="n" x="697.4" y="489.47" font-size="18.9">CD19-BBz(96)</text>
<line x1="659" y1="509.5" x2="683" y2="509.5" stroke="#3F51B5" stroke-width="3.5" stroke-linecap="round"/>
<path d="M671 504.75L675.75 509.5L671 514.25L666.25 509.5Z" fill="#3F51B5"/>
<text class="n" x="697.4" y="516.27" font-size="18.9">CD19-BBz(86)</text>
<line x1="659" y1="536.3" x2="683" y2="536.3" stroke="#76C800" stroke-width="3.5" stroke-linecap="round"/>
<path d="M671 540.6L675.3 532H666.7Z" fill="#76C800"/>
<text class="n" x="697.4" y="543.07" font-size="18.9">CD19-BBz(82)</text>
<line x1="659" y1="562.1" x2="683" y2="562.1" stroke="#F57C00" stroke-width="3.5" stroke-linecap="round"/>
<path d="M671 557.8L675.3 566.4H666.7Z" fill="#F57C00"/>
<text class="n" x="697.4" y="568.87" font-size="18.9">CD19-BBz(75)</text>
<line x1="659" y1="589" x2="683" y2="589" stroke="#DD2A1B" stroke-width="3.5" stroke-linecap="round"/>
<rect x="666.7" y="584.7" width="8.6" height="8.6" fill="#DD2A1B"/>
<text class="n" x="697.4" y="595.77" font-size="18.9">CD19-BBz(71)</text>
<line x1="659" y1="617.9" x2="683" y2="617.9" stroke="#000000" stroke-width="3.5" stroke-linecap="round"/>
<circle cx="671" cy="617.9" r="4.3" fill="#000000"/>
<text class="n" x="697.4" y="624.67" font-size="18.9">Control</text>
<line x1="955.8" y1="565.6" x2="955.8" y2="612.6" stroke="#000000" stroke-width="3.2"/>
<text class="n m" x="972.6" y="595.48" font-size="16.7">NS</text>
<path d="M1227.1 763.1V744.87H1246.9V763.1" fill="none" stroke="#000000" stroke-width="3.6" stroke-linejoin="miter"/>
<circle cx="1235" cy="742.39" r="5.15" fill="#000000"/>
<circle cx="1238.29" cy="747.99" r="5.15" fill="#000000"/>
<circle cx="1239.94" cy="745.03" r="5.15" fill="#000000"/>
<path d="M1256.4 763.1V572.14H1276.2V763.1" fill="none" stroke="#DD2A1B" stroke-width="3.6" stroke-linejoin="miter"/>
<path d="M1266.3 544.5V602.45M1260.55 544.5H1272.05M1260.55 602.45H1272.05" fill="none" stroke="#DD2A1B" stroke-width="2.4"/>
<rect x="1261.13" y="539.35" width="10.3" height="10.3" fill="#DD2A1B"/>
<rect x="1261.13" y="565.03" width="10.3" height="10.3" fill="#DD2A1B"/>
<rect x="1261.13" y="597.3" width="10.3" height="10.3" fill="#DD2A1B"/>
<path d="M1286 763.1V555.65H1305.8V763.1" fill="none" stroke="#F57C00" stroke-width="3.6" stroke-linejoin="miter"/>
<path d="M1295.9 530.67V581.05M1290.15 530.67H1301.65M1290.15 581.05H1301.65" fill="none" stroke="#F57C00" stroke-width="2.4"/>
<path d="M1295.92 524.53L1301.07 534.83H1290.77Z" fill="#F57C00"/>
<path d="M1304.15 560.1L1309.3 570.4H1299Z" fill="#F57C00"/>
<path d="M1290.98 569.97L1296.13 580.27H1285.83Z" fill="#F57C00"/>
<path d="M1315 763.1V682.38H1334.8V763.1" fill="none" stroke="#76C800" stroke-width="3.6" stroke-linejoin="miter"/>
<path d="M1324.9 673.91V692.02M1319.15 673.91H1330.65M1319.15 692.02H1330.65" fill="none" stroke="#76C800" stroke-width="2.4"/>
<path d="M1324.89 680.7L1330.04 670.4H1319.74Z" fill="#76C800"/>
<path d="M1332.14 683.99L1337.29 673.69H1326.99Z" fill="#76C800"/>
<path d="M1319.95 697.17L1325.1 686.87H1314.8Z" fill="#76C800"/>
<path d="M1344 763.1V686.72H1363.8V763.1" fill="none" stroke="#3F51B5" stroke-width="3.6" stroke-linejoin="miter"/>
<path d="M1353.9 675.55V701.89M1348.15 675.55H1359.65M1348.15 701.89H1359.65" fill="none" stroke="#3F51B5" stroke-width="2.4"/>
<path d="M1353.87 665.87L1359.27 671.27L1353.87 676.67L1348.47 671.27Z" fill="#3F51B5"/>
<path d="M1361.77 688.26L1367.17 693.66L1361.77 699.06L1356.37 693.66Z" fill="#3F51B5"/>
<path d="M1350.25 691.55L1355.65 696.95L1350.25 702.35L1344.85 696.95Z" fill="#3F51B5"/>
<path d="M1373.3 763.1V697.13H1393.1V763.1" fill="none" stroke="#8E24AA" stroke-width="3.6" stroke-linejoin="miter"/>
<path d="M1383.2 690.37V705.19M1377.45 690.37H1388.95M1377.45 705.19H1388.95" fill="none" stroke="#8E24AA" stroke-width="2.4"/>
<circle cx="1380.87" cy="688.72" r="5.15" fill="#8E24AA"/>
<circle cx="1386.47" cy="700.91" r="5.15" fill="#8E24AA"/>
<circle cx="1382.52" cy="705.19" r="5.15" fill="#8E24AA"/>
<path d="M1422 763.1V744H1441.8V763.1" fill="none" stroke="#000000" stroke-width="3.6" stroke-linejoin="miter"/>
<circle cx="1430.1" cy="745.23" r="5.15" fill="#000000"/>
<circle cx="1434.8" cy="745.62" r="5.15" fill="#000000"/>
<circle cx="1432.24" cy="747.99" r="5.15" fill="#000000"/>
<path d="M1451.3 763.1V741.4H1471.1V763.1" fill="none" stroke="#DD2A1B" stroke-width="3.6" stroke-linejoin="miter"/>
<path d="M1461.2 729.88V752.93M1455.45 729.88H1466.95M1455.45 752.93H1466.95" fill="none" stroke="#DD2A1B" stroke-width="2.4"/>
<rect x="1456.06" y="723.09" width="10.3" height="10.3" fill="#DD2A1B"/>
<rect x="1449.81" y="742.84" width="10.3" height="10.3" fill="#DD2A1B"/>
<rect x="1463.63" y="742.84" width="10.3" height="10.3" fill="#DD2A1B"/>
<path d="M1480.6 763.1V732.72H1500.4V763.1" fill="none" stroke="#F57C00" stroke-width="3.6" stroke-linejoin="miter"/>
<path d="M1490.5 723.95V747.99M1484.75 723.95H1496.25M1484.75 747.99H1496.25" fill="none" stroke="#F57C00" stroke-width="2.4"/>
<path d="M1490.52 718.8L1495.67 729.1H1485.37Z" fill="#F57C00"/>
<path d="M1498.42 726.38L1503.57 736.68H1493.27Z" fill="#F57C00"/>
<path d="M1485.25 741.2L1490.4 751.5H1480.1Z" fill="#F57C00"/>
<path d="M1509.6 763.1V744H1529.4V763.1" fill="none" stroke="#76C800" stroke-width="3.6" stroke-linejoin="miter"/>
<path d="M1516.69 746.16L1521.84 735.86H1511.54Z" fill="#76C800"/>
<path d="M1522.29 746.16L1527.44 735.86H1517.14Z" fill="#76C800"/>
<path d="M1519.49 751.26L1524.64 740.96H1514.34Z" fill="#76C800"/>
<path d="M1538.9 763.1V743.14H1558.7V763.1" fill="none" stroke="#3F51B5" stroke-width="3.6" stroke-linejoin="miter"/>
<path d="M1545.83 737.92L1551.23 743.32L1545.83 748.72L1540.43 743.32Z" fill="#3F51B5"/>
<path d="M1551.53 737.92L1556.93 743.32L1551.53 748.72L1546.13 743.32Z" fill="#3F51B5"/>
<path d="M1548.73 739.79L1554.13 745.19L1548.73 750.59L1543.33 745.19Z" fill="#3F51B5"/>
<path d="M1567.9 763.1V744H1587.7V763.1" fill="none" stroke="#8E24AA" stroke-width="3.6" stroke-linejoin="miter"/>
<circle cx="1576" cy="744.2" r="5.15" fill="#8E24AA"/>
<circle cx="1580.7" cy="744.2" r="5.15" fill="#8E24AA"/>
<circle cx="1578.2" cy="747.4" r="5.15" fill="#8E24AA"/>
<path d="M1213.6 501V764.8M1202 763.1H1602M1203.9 502.7H1213.6M1203.9 589.6H1213.6M1203.9 676.5H1213.6M1203.9 763.1H1213.6M1310.7 763.1V773.3M1505 763.1V773.3" fill="none" stroke="#000" stroke-width="3.4"/>
<text class="e" transform="translate(1202.7 509.86) scale(0.93 1)" font-size="20">30</text>
<text class="e" transform="translate(1202.7 596.76) scale(0.93 1)" font-size="20">20</text>
<text class="e" transform="translate(1202.7 683.66) scale(0.93 1)" font-size="20">10</text>
<text class="e" transform="translate(1202.7 770.26) scale(0.93 1)" font-size="20">0</text>
<text class="e" transform="translate(1315.7 786) rotate(-45)" font-size="19.7">CD19+K562</text>
<text class="e" transform="translate(1510 786) rotate(-45)" font-size="19.7">K562</text>
<text class="m" x="1408.5" y="860.63" font-size="20.2">Stimuli</text>
<text class="m" transform="translate(1152.39 632.7) rotate(-90)" font-size="21.3" textLength="226" lengthAdjust="spacingAndGlyphs">Annexin V<tspan dy="-6.5" font-size="13">+</tspan><tspan dy="6.5"> T Cell s (%)</tspan></text>
<circle cx="1584" cy="520.8" r="4.75" fill="#000000"/>
<text class="n" x="1613.7" y="528.5" font-size="21.5">Control</text>
<rect x="1579.25" y="546.65" width="9.5" height="9.5" fill="#DD2A1B"/>
<text class="n" x="1613.7" y="559.1" font-size="21.5">CD19-BBz(71)</text>
<path d="M1584 577.45L1588.75 586.95H1579.25Z" fill="#F57C00"/>
<text class="n" x="1613.7" y="589.4" font-size="21.5">CD19-BBz(75)</text>
<path d="M1584 617.05L1588.75 607.55H1579.25Z" fill="#76C800"/>
<text class="n" x="1613.7" y="620" font-size="21.5">CD19-BBz(82)</text>
<path d="M1584 637.35L1589.25 642.6L1584 647.85L1578.75 642.6Z" fill="#3F51B5"/>
<text class="n" x="1613.7" y="650.3" font-size="21.5">CD19-BBz(86)</text>
<circle cx="1584" cy="673.2" r="4.75" fill="#8E24AA"/>
<text class="n" x="1613.7" y="680.9" font-size="21.5">CD19-BBz(96)</text>
<path d="M112.25 1139.9V1124.75H166.35V1139.9" fill="none" stroke="#000000" stroke-width="2.5" stroke-linejoin="miter"/>
<path d="M139.07 1115.11V1132.89M124.46 1115.11H153.67M124.46 1132.89H153.67" fill="none" stroke="#000000" stroke-width="1.6"/>
<circle cx="118.11" cy="1123.24" r="3.75" fill="#000000"/>
<circle cx="129.54" cy="1126.54" r="3.75" fill="#000000"/>
<circle cx="139.19" cy="1134.16" r="3.75" fill="#000000"/>
<circle cx="149.86" cy="1126.54" r="3.75" fill="#000000"/>
<circle cx="160.02" cy="1125.27" r="3.75" fill="#000000"/>
<circle cx="139.19" cy="1107.49" r="3.75" fill="#000000"/>
<path d="M196.05 1139.9V1032.55H250.25V1139.9" fill="none" stroke="#DD2A1B" stroke-width="2.5" stroke-linejoin="miter"/>
<path d="M222.89 1011.48V1051.1M208.28 1011.48H237.49M208.28 1051.1H237.49" fill="none" stroke="#DD2A1B" stroke-width="1.6"/>
<rect x="219.97" y="989.89" width="6.6" height="6.6" fill="#DD2A1B"/>
<rect x="214.63" y="1005.64" width="6.6" height="6.6" fill="#DD2A1B"/>
<rect x="229.87" y="1011.48" width="6.6" height="6.6" fill="#DD2A1B"/>
<rect x="224.79" y="1017.32" width="6.6" height="6.6" fill="#DD2A1B"/>
<rect x="214.63" y="1027.23" width="6.6" height="6.6" fill="#DD2A1B"/>
<rect x="196.6" y="1032.56" width="6.6" height="6.6" fill="#DD2A1B"/>
<rect x="206.25" y="1035.1" width="6.6" height="6.6" fill="#DD2A1B"/>
<rect x="233.43" y="1036.12" width="6.6" height="6.6" fill="#DD2A1B"/>
<rect x="243.08" y="1034.34" width="6.6" height="6.6" fill="#DD2A1B"/>
<rect x="215.14" y="1039.42" width="6.6" height="6.6" fill="#DD2A1B"/>
<rect x="224.54" y="1041.96" width="6.6" height="6.6" fill="#DD2A1B"/>
<rect x="219.71" y="1065.58" width="6.6" height="6.6" fill="#DD2A1B"/>
<path d="M279.35 1139.9V1104.95H334.05V1139.9" fill="none" stroke="#3F51B5" stroke-width="2.5" stroke-linejoin="miter"/>
<path d="M306.71 1094.28V1113.84M292.1 1094.28H321.31M292.1 1113.84H321.31" fill="none" stroke="#3F51B5" stroke-width="1.6"/>
<path d="M306.58 1081.64L310.33 1089.14H302.83Z" fill="#3F51B5"/>
<path d="M311.91 1089.77L315.66 1097.27H308.16Z" fill="#3F51B5"/>
<path d="M283.97 1097.9L287.72 1105.4H280.22Z" fill="#3F51B5"/>
<path d="M301.5 1096.12L305.25 1103.62H297.75Z" fill="#3F51B5"/>
<path d="M328.93 1097.39L332.68 1104.89H325.18Z" fill="#3F51B5"/>
<path d="M321.31 1099.93L325.06 1107.43H317.56Z" fill="#3F51B5"/>
<path d="M292.1 1102.47L295.85 1109.97H288.35Z" fill="#3F51B5"/>
<path d="M299.21 1105.01L302.96 1112.51H295.46Z" fill="#3F51B5"/>
<path d="M315.72 1105.01L319.47 1112.51H311.97Z" fill="#3F51B5"/>
<path d="M311.15 1108.82L314.9 1116.32H307.4Z" fill="#3F51B5"/>
<path d="M301.5 1117.71L305.25 1125.21H297.75Z" fill="#3F51B5"/>
<path d="M98.2 961.05V1141.15M91.4 1139.9H348M89.95 962.3H98.2M89.95 997.8H98.2M89.95 1033.3H98.2M89.95 1068.8H98.2M89.95 1104.4H98.2M89.95 1139.9H98.2M139.2 1139.9V1146.45M222.8 1139.9V1146.45M306.6 1139.9V1146.45" fill="none" stroke="#000" stroke-width="2.5"/>
<text class="e" transform="translate(88.95 967.03) scale(0.87 1)" font-size="13.2">1000</text>
<text class="e" transform="translate(88.95 1002.53) scale(0.87 1)" font-size="13.2">800</text>
<text class="e" transform="translate(88.95 1038.03) scale(0.87 1)" font-size="13.2">600</text>
<text class="e" transform="translate(88.95 1073.53) scale(0.87 1)" font-size="13.2">400</text>
<text class="e" transform="translate(88.95 1109.13) scale(0.87 1)" font-size="13.2">200</text>
<text class="e" transform="translate(88.95 1144.63) scale(0.87 1)" font-size="13.2">0</text>
<text class="e" transform="translate(142.7 1157.1) rotate(-45)" font-size="12.8">Control</text>
<text class="e" transform="translate(226.3 1157.1) rotate(-45)" font-size="12.8">CD19-BBz(71)</text>
<text class="e" transform="translate(310.1 1157.1) rotate(-45)" font-size="12.8">CD19-BBz(86)</text>
<line x1="220" y1="973.9" x2="311.2" y2="973.9" stroke="#000000" stroke-width="3"/>
<text class="n m" x="261.6" y="965.59" font-size="17.3">&lt;0.001</text>
<text class="m" transform="translate(43.13 1051.6) rotate(-90)" font-size="13.8">Mouse IL-6 (pg/ml)</text>
<path d="M459.75 1139.1V1137.45H514.25V1139.1" fill="none" stroke="#000000" stroke-width="2.5" stroke-linejoin="miter"/>
<path d="M488.15 1135.37V1138.76M478.84 1135.37H497.47M478.84 1138.76H497.47" fill="none" stroke="#000000" stroke-width="1.6"/>
<circle cx="463.6" cy="1137.07" r="3.75" fill="#000000"/>
<circle cx="473.76" cy="1137.07" r="3.75" fill="#000000"/>
<circle cx="483.92" cy="1137.74" r="3.75" fill="#000000"/>
<circle cx="492.39" cy="1137.07" r="3.75" fill="#000000"/>
<circle cx="500.85" cy="1137.07" r="3.75" fill="#000000"/>
<circle cx="510.34" cy="1133" r="3.75" fill="#000000"/>
<path d="M543.75 1139.1V1026.95H598.15V1139.1" fill="none" stroke="#DD2A1B" stroke-width="2.5" stroke-linejoin="miter"/>
<path d="M571.12 1006.01V1044.96M556.73 1006.01H585.51M556.73 1044.96H585.51" fill="none" stroke="#DD2A1B" stroke-width="1.6"/>
<rect x="567.65" y="983.41" width="6.6" height="6.6" fill="#DD2A1B"/>
<rect x="557.49" y="1005.42" width="6.6" height="6.6" fill="#DD2A1B"/>
<rect x="577.81" y="1004.75" width="6.6" height="6.6" fill="#DD2A1B"/>
<rect x="567.65" y="1010.84" width="6.6" height="6.6" fill="#DD2A1B"/>
<rect x="566.97" y="1021.68" width="6.6" height="6.6" fill="#DD2A1B"/>
<rect x="543.95" y="1028.79" width="6.6" height="6.6" fill="#DD2A1B"/>
<rect x="554.11" y="1028.79" width="6.6" height="6.6" fill="#DD2A1B"/>
<rect x="581.2" y="1028.79" width="6.6" height="6.6" fill="#DD2A1B"/>
<rect x="590.68" y="1028.11" width="6.6" height="6.6" fill="#DD2A1B"/>
<rect x="562.91" y="1031.16" width="6.6" height="6.6" fill="#DD2A1B"/>
<rect x="572.73" y="1035.22" width="6.6" height="6.6" fill="#DD2A1B"/>
<rect x="567.65" y="1060.96" width="6.6" height="6.6" fill="#DD2A1B"/>
<path d="M627.35 1139.1V1106.85H682.15V1139.1" fill="none" stroke="#3F51B5" stroke-width="2.5" stroke-linejoin="miter"/>
<path d="M654.43 1098.8V1114.04M639.7 1098.8H669.16M639.7 1114.04H669.16" fill="none" stroke="#3F51B5" stroke-width="1.6"/>
<path d="M654.93 1086.59L658.68 1094.09H651.18Z" fill="#3F51B5"/>
<path d="M660.01 1094.71L663.76 1102.21H656.26Z" fill="#3F51B5"/>
<path d="M647.48 1099.11L651.23 1106.61H643.73Z" fill="#3F51B5"/>
<path d="M635.29 1101.49L639.04 1108.99H631.54Z" fill="#3F51B5"/>
<path d="M673.56 1101.49L677.31 1108.99H669.81Z" fill="#3F51B5"/>
<path d="M665.09 1103.18L668.84 1110.68H661.34Z" fill="#3F51B5"/>
<path d="M641.39 1105.21L645.14 1112.71H637.64Z" fill="#3F51B5"/>
<path d="M649.85 1107.58L653.6 1115.08H646.1Z" fill="#3F51B5"/>
<path d="M660.01 1109.27L663.76 1116.77H656.26Z" fill="#3F51B5"/>
<path d="M667.8 1107.58L671.55 1115.08H664.05Z" fill="#3F51B5"/>
<path d="M649.18 1116.72L652.93 1124.22H645.43Z" fill="#3F51B5"/>
<path d="M446 958.75V1140.35M438.2 1139.1H695.6M439.25 960H446M439.25 1004.7H446M439.25 1049.7H446M439.25 1094.4H446M439.25 1139.1H446M487.3 1139.1V1145.85M571 1139.1V1145.85M654.9 1139.1V1145.85" fill="none" stroke="#000" stroke-width="2.5"/>
<text class="e" x="438.25" y="964.4" font-size="12.3">4000</text>
<text class="e" x="438.25" y="1009.1" font-size="12.3">3000</text>
<text class="e" x="438.25" y="1054.1" font-size="12.3">2000</text>
<text class="e" x="438.25" y="1098.8" font-size="12.3">1000</text>
<text class="e" x="438.25" y="1143.5" font-size="12.3">0</text>
<text class="e" transform="translate(490.8 1156.3) rotate(-45)" font-size="12.8">Control</text>
<text class="e" transform="translate(574.5 1156.3) rotate(-45)" font-size="12.8">CD19-BBz(71)</text>
<text class="e" transform="translate(658.4 1156.3) rotate(-45)" font-size="12.8">CD19-BBz(86)</text>
<line x1="564.5" y1="973.8" x2="656" y2="973.8" stroke="#000000" stroke-width="3"/>
<text class="n m" x="606.5" y="965.79" font-size="17.3">&lt;0.001</text>
<text class="m" transform="translate(391.13 1050.4) rotate(-90)" font-size="13.8">Mouse G-CSF (pg/ml)</text>
<path d="M789.95 1139.1V1134.55H844.05V1139.1" fill="none" stroke="#000000" stroke-width="2.5" stroke-linejoin="miter"/>
<path d="M816.63 1127.92V1140.12M802.24 1127.92H831.03M802.24 1140.12H831.03" fill="none" stroke="#000000" stroke-width="1.6"/>
<circle cx="796.48" cy="1131.99" r="3.75" fill="#000000"/>
<circle cx="816.8" cy="1123.18" r="3.75" fill="#000000"/>
<circle cx="837.12" cy="1132.67" r="3.75" fill="#000000"/>
<circle cx="807.32" cy="1137.74" r="3.75" fill="#000000"/>
<circle cx="817.48" cy="1137.74" r="3.75" fill="#000000"/>
<circle cx="826.62" cy="1137.74" r="3.75" fill="#000000"/>
<path d="M873.55 1139.1V1018.75H927.95V1139.1" fill="none" stroke="#DD2A1B" stroke-width="2.5" stroke-linejoin="miter"/>
<path d="M900.45 999.92V1035.48M885.89 999.92H915.01M885.89 1035.48H915.01" fill="none" stroke="#DD2A1B" stroke-width="1.6"/>
<rect x="897.15" y="985.11" width="6.6" height="6.6" fill="#DD2A1B"/>
<rect x="892.07" y="990.52" width="6.6" height="6.6" fill="#DD2A1B"/>
<rect x="907.31" y="997.97" width="6.6" height="6.6" fill="#DD2A1B"/>
<rect x="902.23" y="1004.75" width="6.6" height="6.6" fill="#DD2A1B"/>
<rect x="892.07" y="1010.84" width="6.6" height="6.6" fill="#DD2A1B"/>
<rect x="874.46" y="1017.61" width="6.6" height="6.6" fill="#DD2A1B"/>
<rect x="884.28" y="1019.65" width="6.6" height="6.6" fill="#DD2A1B"/>
<rect x="920.85" y="1018.29" width="6.6" height="6.6" fill="#DD2A1B"/>
<rect x="911.03" y="1022.36" width="6.6" height="6.6" fill="#DD2A1B"/>
<rect x="893.76" y="1024.39" width="6.6" height="6.6" fill="#DD2A1B"/>
<rect x="901.55" y="1026.76" width="6.6" height="6.6" fill="#DD2A1B"/>
<rect x="897.15" y="1049.11" width="6.6" height="6.6" fill="#DD2A1B"/>
<path d="M956.85 1139.1V1109.15H1011.25V1139.1" fill="none" stroke="#3F51B5" stroke-width="2.5" stroke-linejoin="miter"/>
<path d="M984.26 1098.46V1117.43M969.87 1098.46H998.65M969.87 1117.43H998.65" fill="none" stroke="#3F51B5" stroke-width="1.6"/>
<path d="M984.09 1086.59L987.84 1094.09H980.34Z" fill="#3F51B5"/>
<path d="M973.93 1093.02L977.68 1100.52H970.18Z" fill="#3F51B5"/>
<path d="M961.4 1101.82L965.15 1109.32H957.65Z" fill="#3F51B5"/>
<path d="M991.88 1100.81L995.63 1108.31H988.13Z" fill="#3F51B5"/>
<path d="M1007.12 1104.19L1010.87 1111.69H1003.37Z" fill="#3F51B5"/>
<path d="M983.41 1105.89L987.16 1113.39H979.66Z" fill="#3F51B5"/>
<path d="M970.55 1107.58L974.3 1115.08H966.8Z" fill="#3F51B5"/>
<path d="M998.65 1108.26L1002.4 1115.76H994.9Z" fill="#3F51B5"/>
<path d="M977.32 1111.64L981.07 1119.14H973.57Z" fill="#3F51B5"/>
<path d="M987.48 1111.64L991.23 1119.14H983.73Z" fill="#3F51B5"/>
<path d="M979.35 1121.47L983.1 1128.97H975.6Z" fill="#3F51B5"/>
<path d="M775.2 958.75V1140.35M767.4 1139.1H1025.7M768.45 960H775.2M768.45 1019.6H775.2M768.45 1079.2H775.2M768.45 1139.1H775.2M816.8 1139.1V1145.85M900.4 1139.1V1145.85M984.1 1139.1V1145.85" fill="none" stroke="#000" stroke-width="2.5"/>
<text class="e" x="767.45" y="964.4" font-size="12.3">1500</text>
<text class="e" x="767.45" y="1024" font-size="12.3">1000</text>
<text class="e" x="767.45" y="1083.6" font-size="12.3">500</text>
<text class="e" x="767.45" y="1143.5" font-size="12.3">0</text>
<text class="e" transform="translate(820.3 1156.3) rotate(-45)" font-size="12.8">Control</text>
<text class="e" transform="translate(903.9 1156.3) rotate(-45)" font-size="12.8">CD19-BBz(71)</text>
<text class="e" transform="translate(987.6 1156.3) rotate(-45)" font-size="12.8">CD19-BBz(86)</text>
<line x1="897.7" y1="973.8" x2="989.2" y2="973.8" stroke="#000000" stroke-width="3"/>
<text class="n m" x="939.4" y="965.79" font-size="17.3">&lt;0.001</text>
<text class="m" transform="translate(720.63 1050.4) rotate(-90)" font-size="13.8">Mouse CCL-2 (pg/ml)</text>
<path d="M1204.3 1133.3V1107.6H1254.6V1133.3" fill="none" stroke="#444" stroke-width="2.4" stroke-linejoin="miter"/>
<path d="M1229.58 1101.71V1111.54M1216.71 1101.71H1242.46M1216.71 1111.54H1242.46" fill="none" stroke="#000000" stroke-width="1.6"/>
<circle cx="1215.54" cy="1105.23" r="3.75" fill="#000000"/>
<circle cx="1243.63" cy="1099.37" r="3.75" fill="#000000"/>
<circle cx="1224.9" cy="1111.78" r="3.75" fill="#000000"/>
<circle cx="1234.27" cy="1109.2" r="3.75" fill="#000000"/>
<path d="M1281.8 1133.3V1014H1332.1V1133.3" fill="none" stroke="#DD2A1B" stroke-width="2.4" stroke-linejoin="miter"/>
<path d="M1307.17 993.35V1032.67M1293.95 993.35H1320.4M1293.95 1032.67H1320.4" fill="none" stroke="#DD2A1B" stroke-width="1.6"/>
<rect x="1303.99" y="976.71" width="6.6" height="6.6" fill="#DD2A1B"/>
<rect x="1303.99" y="996.6" width="6.6" height="6.6" fill="#DD2A1B"/>
<rect x="1303.99" y="1009.94" width="6.6" height="6.6" fill="#DD2A1B"/>
<rect x="1294.16" y="1019.54" width="6.6" height="6.6" fill="#DD2A1B"/>
<rect x="1313.35" y="1024.69" width="6.6" height="6.6" fill="#DD2A1B"/>
<rect x="1303.99" y="1031.24" width="6.6" height="6.6" fill="#DD2A1B"/>
<path d="M1359.5 1133.3V1065.5H1409.8V1133.3" fill="none" stroke="#3F51B5" stroke-width="2.4" stroke-linejoin="miter"/>
<path d="M1384.65 1055.61V1074.1M1371.19 1055.61H1398.1M1371.19 1074.1H1398.1" fill="none" stroke="#3F51B5" stroke-width="1.6"/>
<path d="M1380.55 1047.64L1384.3 1055.14H1376.8Z" fill="#3F51B5"/>
<path d="M1389.44 1052.79L1393.19 1060.29H1385.69Z" fill="#3F51B5"/>
<path d="M1398.57 1060.05L1402.32 1067.55H1394.82Z" fill="#3F51B5"/>
<path d="M1370.72 1065.9L1374.47 1073.4H1366.97Z" fill="#3F51B5"/>
<path d="M1379.85 1071.75L1383.6 1079.25H1376.1Z" fill="#3F51B5"/>
<path d="M1389.21 1069.88L1392.96 1077.38H1385.46Z" fill="#3F51B5"/>
<path d="M1191 947.95V1134.45M1184 1133.3H1423.9M1185.35 949.1H1191M1185.35 986.1H1191M1185.35 1023.1H1191M1185.35 1059.8H1191M1185.35 1096.6H1191M1185.35 1133.3H1191M1230 1133.3V1138.95M1307.3 1133.3V1138.95M1384.8 1133.3V1138.95" fill="none" stroke="#000" stroke-width="2.3"/>
<text class="e" transform="translate(1184.65 953.58) scale(0.95 1)" font-size="12.5">1×10<tspan dy="-5" font-size="9">6</tspan></text>
<text class="e" transform="translate(1184.65 990.58) scale(0.95 1)" font-size="12.5">8×10<tspan dy="-5" font-size="9">5</tspan></text>
<text class="e" transform="translate(1184.65 1027.58) scale(0.95 1)" font-size="12.5">6×10<tspan dy="-5" font-size="9">5</tspan></text>
<text class="e" transform="translate(1184.65 1064.27) scale(0.95 1)" font-size="12.5">4×10<tspan dy="-5" font-size="9">5</tspan></text>
<text class="e" transform="translate(1184.65 1101.07) scale(0.95 1)" font-size="12.5">2×10<tspan dy="-5" font-size="9">5</tspan></text>
<text class="e" transform="translate(1184.65 1137.77) scale(0.95 1)" font-size="12.5">0</text>
<text class="i e" transform="translate(1233.5 1150.5) rotate(-45)" font-size="13.1">Control</text>
<text class="i e" transform="translate(1310.8 1150.5) rotate(-45)" font-size="13.1">CD19-BBz(71)</text>
<text class="i e" transform="translate(1388.3 1150.5) rotate(-45)" font-size="13.1">CD19-BBz(86)</text>
<line x1="1306.8" y1="971.1" x2="1397.6" y2="971.1" stroke="#000000" stroke-width="3"/>
<text class="n m" x="1346.6" y="964.69" font-size="17.3">&lt;0.001</text>
<text class="m" transform="translate(1116.91 1041.3) rotate(-90)" font-size="14.5" textLength="174.5" lengthAdjust="spacingAndGlyphs">Number of Counted Cells</text>
<text class="m" x="1307.3" y="928.61" font-size="16.5" textLength="87.5" lengthAdjust="spacingAndGlyphs">Granulocyte</text>
<path d="M1569.6 1129.8V1108.1H1619.4V1129.8" fill="none" stroke="#000000" stroke-width="2.4" stroke-linejoin="miter"/>
<path d="M1594.34 1102.53V1111.5M1581.06 1102.53H1607.63M1581.06 1111.5H1607.63" fill="none" stroke="#000000" stroke-width="1.6"/>
<circle cx="1581.72" cy="1108.51" r="3.75" fill="#000000"/>
<circle cx="1590.36" cy="1109.84" r="3.75" fill="#000000"/>
<circle cx="1599.32" cy="1109.17" r="3.75" fill="#000000"/>
<circle cx="1607.96" cy="1100.54" r="3.75" fill="#000000"/>
<path d="M1646.4 1129.8V1016.7H1696.1V1129.8" fill="none" stroke="#DD2A1B" stroke-width="2.4" stroke-linejoin="miter"/>
<path d="M1671.39 1000.25V1031.14M1658.1 1000.25H1684.67M1658.1 1031.14H1684.67" fill="none" stroke="#DD2A1B" stroke-width="1.6"/>
<rect x="1668.09" y="986.32" width="6.6" height="6.6" fill="#DD2A1B"/>
<rect x="1663.11" y="1002.93" width="6.6" height="6.6" fill="#DD2A1B"/>
<rect x="1673.07" y="1012.23" width="6.6" height="6.6" fill="#DD2A1B"/>
<rect x="1658.46" y="1020.2" width="6.6" height="6.6" fill="#DD2A1B"/>
<rect x="1677.38" y="1023.52" width="6.6" height="6.6" fill="#DD2A1B"/>
<rect x="1668.09" y="1027.17" width="6.6" height="6.6" fill="#DD2A1B"/>
<path d="M1723.4 1129.8V1082.1H1773.1V1129.8" fill="none" stroke="#3F51B5" stroke-width="2.4" stroke-linejoin="miter"/>
<path d="M1748.43 1075.63V1086.26M1735.48 1075.63H1761.38M1735.48 1086.26H1761.38" fill="none" stroke="#3F51B5" stroke-width="1.6"/>
<path d="M1748.43 1068.9L1752.18 1076.4H1744.68Z" fill="#3F51B5"/>
<path d="M1729.5 1076.53L1733.25 1084.03H1725.75Z" fill="#3F51B5"/>
<path d="M1767.03 1076.53L1770.78 1084.03H1763.28Z" fill="#3F51B5"/>
<path d="M1738.8 1078.19L1742.55 1085.69H1735.05Z" fill="#3F51B5"/>
<path d="M1758.06 1082.18L1761.81 1089.68H1754.31Z" fill="#3F51B5"/>
<path d="M1748.43 1084.84L1752.18 1092.34H1744.68Z" fill="#3F51B5"/>
<path d="M1555.5 944.95V1130.95M1549.5 1129.8H1786.3M1549.85 946.1H1555.5M1549.85 992.3H1555.5M1549.85 1038.1H1555.5M1549.85 1083.9H1555.5M1549.85 1129.8H1555.5M1594.7 1129.8V1135.45M1671.4 1129.8V1135.45M1748.4 1129.8V1135.45" fill="none" stroke="#000" stroke-width="2.3"/>
<text class="e" transform="translate(1549.15 950.58) scale(0.95 1)" font-size="12.5">2.0×10<tspan dy="-5" font-size="9">6</tspan></text>
<text class="e" transform="translate(1549.15 996.77) scale(0.95 1)" font-size="12.5">1.5×10<tspan dy="-5" font-size="9">6</tspan></text>
<text class="e" transform="translate(1549.15 1042.57) scale(0.95 1)" font-size="12.5">1.0×10<tspan dy="-5" font-size="9">6</tspan></text>
<text class="e" transform="translate(1549.15 1088.38) scale(0.95 1)" font-size="12.5">5.0×10<tspan dy="-5" font-size="9">5</tspan></text>
<text class="e" transform="translate(1549.15 1134.27) scale(0.95 1)" font-size="12.5">0.0</text>
<text class="i e" transform="translate(1598.2 1147) rotate(-45)" font-size="13.1">Control</text>
<text class="i e" transform="translate(1674.9 1147) rotate(-45)" font-size="13.1">CD19-BBz(71)</text>
<text class="i e" transform="translate(1751.9 1147) rotate(-45)" font-size="13.1">CD19-BBz(86)</text>
<line x1="1664.1" y1="970.7" x2="1754.7" y2="970.7" stroke="#000000" stroke-width="3"/>
<text class="n m" x="1711.6" y="962.59" font-size="17.3">&lt;0.001</text>
<text class="m" transform="translate(1480.41 1038.4) rotate(-90)" font-size="14.5" textLength="174.5" lengthAdjust="spacingAndGlyphs">Number of Counted Cells</text>
<text class="m" x="1671.4" y="925.11" font-size="16.5" textLength="88" lengthAdjust="spacingAndGlyphs">Macrophage</text>
<path d="M1906.4 1131.4V1104.4H1956.1V1131.4" fill="none" stroke="#000000" stroke-width="2.4" stroke-linejoin="miter"/>
<path d="M1931.41 1089.25V1117.48M1918.12 1089.25H1944.69M1918.12 1117.48H1944.69" fill="none" stroke="#000000" stroke-width="1.6"/>
<circle cx="1931.41" cy="1082.94" r="3.75" fill="#000000"/>
<circle cx="1921.44" cy="1106.52" r="3.75" fill="#000000"/>
<circle cx="1940.37" cy="1108.51" r="3.75" fill="#000000"/>
<circle cx="1931.41" cy="1115.15" r="3.75" fill="#000000"/>
<path d="M1984.1 1131.4V1024.4H2033.8V1131.4" fill="none" stroke="#DD2A1B" stroke-width="2.4" stroke-linejoin="miter"/>
<path d="M2009.11 1006.56V1041.1M1996.16 1006.56H2022.07M1996.16 1041.1H2022.07" fill="none" stroke="#DD2A1B" stroke-width="1.6"/>
<rect x="2006.15" y="994.63" width="6.6" height="6.6" fill="#DD2A1B"/>
<rect x="2005.48" y="1009.57" width="6.6" height="6.6" fill="#DD2A1B"/>
<rect x="2001.17" y="1016.21" width="6.6" height="6.6" fill="#DD2A1B"/>
<rect x="2011.13" y="1021.53" width="6.6" height="6.6" fill="#DD2A1B"/>
<rect x="2000.5" y="1038.79" width="6.6" height="6.6" fill="#DD2A1B"/>
<rect x="2010.13" y="1036.8" width="6.6" height="6.6" fill="#DD2A1B"/>
<path d="M2061.5 1131.4V1065.2H2111.5V1131.4" fill="none" stroke="#3F51B5" stroke-width="2.4" stroke-linejoin="miter"/>
<path d="M2086.49 1055.04V1073.31M2073.21 1055.04H2099.77M2073.21 1073.31H2099.77" fill="none" stroke="#3F51B5" stroke-width="1.6"/>
<path d="M2086.16 1045.65L2089.91 1053.15H2082.41Z" fill="#3F51B5"/>
<path d="M2086.16 1056.61L2089.91 1064.11H2082.41Z" fill="#3F51B5"/>
<path d="M2099.11 1061.26L2102.86 1068.76H2095.36Z" fill="#3F51B5"/>
<path d="M2072.54 1063.25L2076.29 1070.75H2068.79Z" fill="#3F51B5"/>
<path d="M2090.81 1067.23L2094.56 1074.73H2087.06Z" fill="#3F51B5"/>
<path d="M2081.51 1069.89L2085.26 1077.39H2077.76Z" fill="#3F51B5"/>
<path d="M1892.2 947.65V1132.55M1884.9 1131.4H2126M1886.55 948.8H1892.2M1886.55 994.6H1892.2M1886.55 1040.1H1892.2M1886.55 1085.9H1892.2M1886.55 1131.4H1892.2M1931.4 1131.4V1137.05M2008.8 1131.4V1137.05M2086.2 1131.4V1137.05" fill="none" stroke="#000" stroke-width="2.3"/>
<text class="e" transform="translate(1885.85 953.27) scale(0.95 1)" font-size="12.5">8×10<tspan dy="-5" font-size="9">5</tspan></text>
<text class="e" transform="translate(1885.85 999.08) scale(0.95 1)" font-size="12.5">6×10<tspan dy="-5" font-size="9">5</tspan></text>
<text class="e" transform="translate(1885.85 1044.57) scale(0.95 1)" font-size="12.5">4×10<tspan dy="-5" font-size="9">5</tspan></text>
<text class="e" transform="translate(1885.85 1090.38) scale(0.95 1)" font-size="12.5">2×10<tspan dy="-5" font-size="9">5</tspan></text>
<text class="e" transform="translate(1885.85 1135.88) scale(0.95 1)" font-size="12.5">0</text>
<text class="i e" transform="translate(1934.9 1148.6) rotate(-45)" font-size="13.1">Control</text>
<text class="i e" transform="translate(2012.3 1148.6) rotate(-45)" font-size="13.1">CD19-BBz(71)</text>
<text class="i e" transform="translate(2089.7 1148.6) rotate(-45)" font-size="13.1">CD19-BBz(86)</text>
<line x1="2008.8" y1="970.7" x2="2099.8" y2="970.7" stroke="#000000" stroke-width="3"/>
<text class="n m" x="2052" y="962.59" font-size="17.3">&lt;0.001</text>
<text class="m" transform="translate(1818.12 1039.4) rotate(-90)" font-size="14.5" textLength="174.5" lengthAdjust="spacingAndGlyphs">Number of Counted Cells</text>
<text class="m" x="2008.8" y="928.41" font-size="16.5" textLength="71" lengthAdjust="spacingAndGlyphs">Monocyte</text>
<path d="M111.3 1496.7V1474.6H169.4V1496.7" fill="none" stroke="#000000" stroke-width="2.6" stroke-linejoin="miter"/>
<circle cx="129.54" cy="1473.84" r="3.75" fill="#000000"/>
<circle cx="140.46" cy="1473.84" r="3.75" fill="#000000"/>
<circle cx="151.13" cy="1473.84" r="3.75" fill="#000000"/>
<path d="M200.2 1496.7V1348.9H258.3V1496.7" fill="none" stroke="#DD2A1B" stroke-width="2.6" stroke-linejoin="miter"/>
<path d="M229.36 1341.51V1354.21M214.12 1341.51H244.6M214.12 1354.21H244.6" fill="none" stroke="#DD2A1B" stroke-width="1.6"/>
<rect x="225.86" y="1337.24" width="7" height="7" fill="#DD2A1B"/>
<rect x="220.02" y="1348.93" width="7" height="7" fill="#DD2A1B"/>
<rect x="230.69" y="1347.66" width="7" height="7" fill="#DD2A1B"/>
<path d="M289.6 1496.7V1442.1H348V1496.7" fill="none" stroke="#3F51B5" stroke-width="2.6" stroke-linejoin="miter"/>
<path d="M318.77 1431.42V1450.47M303.53 1431.42H334.01M303.53 1450.47H334.01" fill="none" stroke="#3F51B5" stroke-width="1.6"/>
<path d="M318.77 1428.69L322.52 1436.19H315.02Z" fill="#3F51B5"/>
<path d="M323.85 1439.61L327.6 1447.11H320.1Z" fill="#3F51B5"/>
<path d="M312.93 1446.72L316.68 1454.22H309.18Z" fill="#3F51B5"/>
<path d="M96 1305.9V1498M88.9 1496.7H362.7M89.1 1307.2H96M89.1 1354.7H96M89.1 1402.2H96M89.1 1449.7H96M89.1 1496.7H96M140.5 1496.7V1504.8M229.1 1496.7V1504.8M318.8 1496.7V1504.8" fill="none" stroke="#000" stroke-width="2.6"/>
<text class="e" x="88.5" y="1312.21" font-size="14">8</text>
<text class="e" x="88.5" y="1359.71" font-size="14">6</text>
<text class="e" x="88.5" y="1407.21" font-size="14">4</text>
<text class="e" x="88.5" y="1454.71" font-size="14">2</text>
<text class="e" x="88.5" y="1501.71" font-size="14">0</text>
<text class="e" transform="translate(144 1515.5) rotate(-45)" font-size="14.2">Control</text>
<text class="e" transform="translate(232.6 1515.5) rotate(-45)" font-size="14.2">CD19-BBz(71)</text>
<text class="e" transform="translate(322.3 1515.5) rotate(-45)" font-size="14.2">CD19-BBz(86)</text>
<line x1="232.4" y1="1322" x2="320" y2="1322" stroke="#000000" stroke-width="3"/>
<text class="n m" x="273.8" y="1313.19" font-size="17.3">0.009</text>
<text class="m" transform="translate(59.9 1402.7) rotate(-90)" font-size="14.8" textLength="89.5" lengthAdjust="spacingAndGlyphs">Fold Change</text>
<text class="m" x="239.3" y="1290.26" font-size="17.2" textLength="91.5" lengthAdjust="spacingAndGlyphs">Mouse IL-6</text>
<path d="M447.3 1496.7V1490.2H503.6V1496.7" fill="none" stroke="#000000" stroke-width="2.6" stroke-linejoin="miter"/>
<circle cx="465.3" cy="1489.24" r="3.75" fill="#000000"/>
<circle cx="475.46" cy="1489.24" r="3.75" fill="#000000"/>
<circle cx="485.61" cy="1489.24" r="3.75" fill="#000000"/>
<path d="M534.3 1496.7V1359.1H590.7V1496.7" fill="none" stroke="#DD2A1B" stroke-width="2.6" stroke-linejoin="miter"/>
<path d="M562.32 1349.04V1367.33M547.59 1349.04H577.05M547.59 1367.33H577.05" fill="none" stroke="#DD2A1B" stroke-width="1.6"/>
<rect x="558.99" y="1344.19" width="7" height="7" fill="#DD2A1B"/>
<rect x="554.24" y="1360.1" width="7" height="7" fill="#DD2A1B"/>
<rect x="564.07" y="1359.09" width="7" height="7" fill="#DD2A1B"/>
<path d="M621.3 1496.7V1454H677.7V1496.7" fill="none" stroke="#3F51B5" stroke-width="2.6" stroke-linejoin="miter"/>
<path d="M649.35 1449.96V1456.05M634.62 1449.96H664.08M634.62 1456.05H664.08" fill="none" stroke="#3F51B5" stroke-width="1.6"/>
<path d="M638.68 1446.88L642.43 1454.38H634.93Z" fill="#3F51B5"/>
<path d="M659 1449.59L662.75 1457.09H655.25Z" fill="#3F51B5"/>
<path d="M649.18 1452.98L652.93 1460.48H645.43Z" fill="#3F51B5"/>
<path d="M431.8 1310.8V1498M424.7 1496.7H693.2M424.9 1312.1H431.8M424.9 1349H431.8M424.9 1386H431.8M424.9 1422.9H431.8M424.9 1459.8H431.8M424.9 1496.7H431.8M475.5 1496.7V1504.8M562.5 1496.7V1504.8M649.2 1496.7V1504.8" fill="none" stroke="#000" stroke-width="2.6"/>
<text class="e" x="424.3" y="1317.11" font-size="14">25</text>
<text class="e" x="424.3" y="1354.01" font-size="14">20</text>
<text class="e" x="424.3" y="1391.01" font-size="14">15</text>
<text class="e" x="424.3" y="1427.91" font-size="14">10</text>
<text class="e" x="424.3" y="1464.81" font-size="14">5</text>
<text class="e" x="424.3" y="1501.71" font-size="14">0</text>
<text class="e" transform="translate(479 1515.5) rotate(-45)" font-size="14.2">Control</text>
<text class="e" transform="translate(566 1515.5) rotate(-45)" font-size="14.2">CD19-BBz(71)</text>
<text class="e" transform="translate(652.7 1515.5) rotate(-45)" font-size="14.2">CD19-BBz(86)</text>
<line x1="556" y1="1334.1" x2="643.8" y2="1334.1" stroke="#000000" stroke-width="3"/>
<text class="n m" x="596.7" y="1324.09" font-size="17.3">0.004</text>
<text class="m" transform="translate(389 1404.2) rotate(-90)" font-size="14.8" textLength="89.5" lengthAdjust="spacingAndGlyphs">Fold Change</text>
<text class="m" x="562.5" y="1291.16" font-size="17.2" textLength="110" lengthAdjust="spacingAndGlyphs">Mouse G-CSF</text>
<path d="M779.8 1496.7V1485.1H835.8V1496.7" fill="none" stroke="#000000" stroke-width="2.6" stroke-linejoin="miter"/>
<circle cx="797.84" cy="1484.16" r="3.75" fill="#000000"/>
<circle cx="808" cy="1484.16" r="3.75" fill="#000000"/>
<circle cx="818.16" cy="1484.16" r="3.75" fill="#000000"/>
<path d="M866.9 1496.7V1380.1H923.2V1496.7" fill="none" stroke="#DD2A1B" stroke-width="2.6" stroke-linejoin="miter"/>
<path d="M895.37 1373.08V1385.61M880.81 1373.08H909.93M880.81 1385.61H909.93" fill="none" stroke="#DD2A1B" stroke-width="1.6"/>
<rect x="891.19" y="1369.58" width="7" height="7" fill="#DD2A1B"/>
<rect x="896.95" y="1374.33" width="7" height="7" fill="#DD2A1B"/>
<rect x="886.11" y="1382.11" width="7" height="7" fill="#DD2A1B"/>
<path d="M953.6 1496.7V1460.4H1010.2V1496.7" fill="none" stroke="#3F51B5" stroke-width="2.6" stroke-linejoin="miter"/>
<path d="M982.23 1456.73V1462.49M967.5 1456.73H996.96M967.5 1462.49H996.96" fill="none" stroke="#3F51B5" stroke-width="1.6"/>
<path d="M971.56 1452.98L975.31 1460.48H967.81Z" fill="#3F51B5"/>
<path d="M991.88 1456.37L995.63 1463.87H988.13Z" fill="#3F51B5"/>
<path d="M981.72 1459.07L985.47 1466.57H977.97Z" fill="#3F51B5"/>
<path d="M764.3 1310.8V1498M757.2 1496.7H1025.7M757.4 1312.1H764.3M757.4 1373.8H764.3M757.4 1435.4H764.3M757.4 1496.7H764.3M808 1496.7V1504.8M894.7 1496.7V1504.8M981.7 1496.7V1504.8" fill="none" stroke="#000" stroke-width="2.6"/>
<text class="e" x="756.8" y="1317.11" font-size="14">15</text>
<text class="e" x="756.8" y="1378.81" font-size="14">10</text>
<text class="e" x="756.8" y="1440.41" font-size="14">5</text>
<text class="e" x="756.8" y="1501.71" font-size="14">0</text>
<text class="e" transform="translate(811.5 1515.5) rotate(-45)" font-size="14.2">Control</text>
<text class="e" transform="translate(898.2 1515.5) rotate(-45)" font-size="14.2">CD19-BBz(71)</text>
<text class="e" transform="translate(985.2 1515.5) rotate(-45)" font-size="14.2">CD19-BBz(86)</text>
<line x1="892" y1="1358.5" x2="979.3" y2="1358.5" stroke="#000000" stroke-width="3"/>
<text class="n m" x="933.6" y="1350.19" font-size="17.3">&lt;0.001</text>
<text class="m" transform="translate(721.6 1404) rotate(-90)" font-size="14.8" textLength="89.5" lengthAdjust="spacingAndGlyphs">Fold Change</text>
<text class="m" x="895.4" y="1291.16" font-size="17.2" textLength="109" lengthAdjust="spacingAndGlyphs">Mouse IL-12α</text>
<circle cx="1202.04" cy="1492.38" r="3.5" fill="#000000"/>
<circle cx="1212.03" cy="1494.59" r="3.5" fill="#000000"/>
<circle cx="1222.02" cy="1494.59" r="3.5" fill="#000000"/>
<circle cx="1232.23" cy="1494.59" r="3.5" fill="#000000"/>
<circle cx="1242.44" cy="1493.49" r="3.5" fill="#000000"/>
<path d="M1279.9 1494.6V1371.6H1335V1494.6" fill="none" stroke="#DD2A1B" stroke-width="2.6" stroke-linejoin="miter"/>
<path d="M1307.48 1351.86V1389.16M1292.61 1351.86H1322.35M1292.61 1389.16H1322.35" fill="none" stroke="#DD2A1B" stroke-width="1.6"/>
<rect x="1303.98" y="1341.93" width="7" height="7" fill="#DD2A1B"/>
<rect x="1303.98" y="1359.24" width="7" height="7" fill="#DD2A1B"/>
<rect x="1298.65" y="1368.79" width="7" height="7" fill="#DD2A1B"/>
<rect x="1309.53" y="1373.45" width="7" height="7" fill="#DD2A1B"/>
<rect x="1303.98" y="1392.98" width="7" height="7" fill="#DD2A1B"/>
<path d="M1364.7 1494.6V1449.9H1420.5V1494.6" fill="none" stroke="#3F51B5" stroke-width="2.6" stroke-linejoin="miter"/>
<path d="M1392.72 1432V1464.85M1377.85 1432H1407.59M1377.85 1464.85H1407.59" fill="none" stroke="#3F51B5" stroke-width="1.6"/>
<path d="M1392.94 1420.06L1396.44 1427.06H1389.44Z" fill="#3F51B5"/>
<path d="M1387.61 1441.37L1391.11 1448.37H1384.11Z" fill="#3F51B5"/>
<path d="M1402.93 1451.36L1406.43 1458.36H1399.43Z" fill="#3F51B5"/>
<path d="M1397.82 1453.36L1401.32 1460.36H1394.32Z" fill="#3F51B5"/>
<path d="M1387.61 1463.57L1391.11 1470.57H1384.11Z" fill="#3F51B5"/>
<path d="M1180.3 1313.4V1496M1173.2 1494.6H1435.1M1173.9 1314.8H1180.3M1173.9 1374.7H1180.3M1173.9 1434.7H1180.3M1173.9 1494.6H1180.3M1222 1494.6V1501M1307.5 1494.6V1501M1392.5 1494.6V1501" fill="none" stroke="#000" stroke-width="2.8"/>
<text class="e" x="1173.4" y="1319.2" font-size="12.3">150</text>
<text class="e" x="1173.4" y="1379.1" font-size="12.3">100</text>
<text class="e" x="1173.4" y="1439.1" font-size="12.3">50</text>
<text class="e" x="1173.4" y="1499" font-size="12.3">0</text>
<text class="e" transform="translate(1225.5 1512.5) rotate(-45)" font-size="13.2">Control</text>
<text class="e" transform="translate(1311 1512.5) rotate(-45)" font-size="13.2">CD19-BBz(71)</text>
<text class="e" transform="translate(1396 1512.5) rotate(-45)" font-size="13.2">CD19-BBz(86)</text>
<line x1="1300.8" y1="1333.9" x2="1388.5" y2="1333.9" stroke="#000000" stroke-width="3"/>
<text class="n m" x="1341.9" y="1327.19" font-size="17.3">&lt;0.001</text>
<text class="m" transform="translate(1130.98 1404.3) rotate(-90)" font-size="14" textLength="145" lengthAdjust="spacingAndGlyphs">CAR+ T cells/ul blood</text>
<text class="m" x="1305.3" y="1288.11" font-size="16.5" textLength="154" lengthAdjust="spacingAndGlyphs">Day 7 Post-infusion</text>
<path d="M1527.6 1495.1V1492.7H1582.1V1495.1" fill="none" stroke="#000000" stroke-width="2.6" stroke-linejoin="miter"/>
<path d="M1554.83 1488.44V1494.74M1540.21 1488.44H1569.44M1540.21 1494.74H1569.44" fill="none" stroke="#000000" stroke-width="1.6"/>
<circle cx="1544.53" cy="1488.44" r="3.25" fill="#000000"/>
<circle cx="1566.12" cy="1491.76" r="3.25" fill="#000000"/>
<circle cx="1554.49" cy="1495.74" r="3.25" fill="#000000"/>
<path d="M1612.9 1495.1V1353.3H1667.4V1495.1" fill="none" stroke="#DD2A1B" stroke-width="2.6" stroke-linejoin="miter"/>
<path d="M1640.17 1329.7V1374.2M1625.56 1329.7H1654.78M1625.56 1374.2H1654.78" fill="none" stroke="#DD2A1B" stroke-width="1.6"/>
<rect x="1636.34" y="1319.56" width="7" height="7" fill="#DD2A1B"/>
<rect x="1641.65" y="1336.83" width="7" height="7" fill="#DD2A1B"/>
<rect x="1631.69" y="1346.12" width="7" height="7" fill="#DD2A1B"/>
<rect x="1636.34" y="1361.07" width="7" height="7" fill="#DD2A1B"/>
<rect x="1636.34" y="1378.34" width="7" height="7" fill="#DD2A1B"/>
<path d="M1698.6 1495.1V1365.2H1752.8V1495.1" fill="none" stroke="#3F51B5" stroke-width="2.6" stroke-linejoin="miter"/>
<path d="M1725.52 1336.34V1391.47M1710.9 1336.34H1740.13M1710.9 1391.47H1740.13" fill="none" stroke="#3F51B5" stroke-width="1.6"/>
<path d="M1725.52 1323.54L1729.02 1330.54H1722.02Z" fill="#3F51B5"/>
<path d="M1730.5 1352.1L1734 1359.1H1727Z" fill="#3F51B5"/>
<path d="M1720.53 1356.75L1724.03 1363.75H1717.03Z" fill="#3F51B5"/>
<path d="M1725.52 1373.69L1729.02 1380.69H1722.02Z" fill="#3F51B5"/>
<path d="M1725.52 1398.26L1729.02 1405.26H1722.02Z" fill="#3F51B5"/>
<path d="M1512.3 1312.4V1496.5M1505.7 1495.1H1767.7M1505.9 1313.8H1512.3M1505.9 1374.2H1512.3M1505.9 1434.6H1512.3M1505.9 1495.1H1512.3M1554.5 1495.1V1501.5M1639.8 1495.1V1501.5M1725.5 1495.1V1501.5" fill="none" stroke="#000" stroke-width="2.8"/>
<text class="e" x="1505.4" y="1318.2" font-size="12.3">150</text>
<text class="e" x="1505.4" y="1378.6" font-size="12.3">100</text>
<text class="e" x="1505.4" y="1439" font-size="12.3">50</text>
<text class="e" x="1505.4" y="1499.5" font-size="12.3">0</text>
<text class="e" transform="translate(1558 1512.5) rotate(-45)" font-size="13.2">Control</text>
<text class="e" transform="translate(1643.3 1512.5) rotate(-45)" font-size="13.2">CD19-BBz(71)</text>
<text class="e" transform="translate(1729 1512.5) rotate(-45)" font-size="13.2">CD19-BBz(86)</text>
<line x1="1655.1" y1="1315.8" x2="1749.4" y2="1315.8" stroke="#000000" stroke-width="3"/>
<text class="n m" x="1699.9" y="1310.99" font-size="17.3">NS</text>
<text class="m" transform="translate(1462.98 1404.4) rotate(-90)" font-size="14" textLength="162" lengthAdjust="spacingAndGlyphs">CAR+ T cells/ul of blood</text>
<text class="m" x="1639.2" y="1285.81" font-size="16.5" textLength="163" lengthAdjust="spacingAndGlyphs">Day 14 Post-infusion</text>
<circle cx="1901.85" cy="1495.74" r="3.5" fill="#000000"/>
<circle cx="1911.81" cy="1495.74" r="3.5" fill="#000000"/>
<path d="M1965.9 1495.7V1428.3H2021.8V1495.7" fill="none" stroke="#DD2A1B" stroke-width="2.6" stroke-linejoin="miter"/>
<path d="M1993.84 1413.05V1441.61M1978.89 1413.05H2008.78M1978.89 1441.61H2008.78" fill="none" stroke="#DD2A1B" stroke-width="1.6"/>
<rect x="1990.34" y="1402.91" width="7" height="7" fill="#DD2A1B"/>
<rect x="1985.03" y="1418.19" width="7" height="7" fill="#DD2A1B"/>
<rect x="2000.97" y="1425.82" width="7" height="7" fill="#DD2A1B"/>
<rect x="1995.32" y="1433.13" width="7" height="7" fill="#DD2A1B"/>
<rect x="1985.03" y="1440.1" width="7" height="7" fill="#DD2A1B"/>
<path d="M2052.9 1495.7V1370.2H2108.8V1495.7" fill="none" stroke="#3F51B5" stroke-width="2.6" stroke-linejoin="miter"/>
<path d="M2080.84 1341.32V1397.11M2065.9 1341.32H2095.79M2065.9 1397.11H2095.79" fill="none" stroke="#3F51B5" stroke-width="1.6"/>
<path d="M2075.86 1343.8L2079.36 1350.8H2072.36Z" fill="#3F51B5"/>
<path d="M2085.83 1343.8L2089.33 1350.8H2082.33Z" fill="#3F51B5"/>
<path d="M2080.84 1359.41L2084.34 1366.41H2077.34Z" fill="#3F51B5"/>
<path d="M2080.84 1374.02L2084.34 1381.02H2077.34Z" fill="#3F51B5"/>
<path d="M2080.84 1410.88L2084.34 1417.88H2077.34Z" fill="#3F51B5"/>
<path d="M1863.3 1308.4V1497.1M1856 1495.7H2126M1856.9 1309.8H1863.3M1856.9 1347H1863.3M1856.9 1384.2H1863.3M1856.9 1421.4H1863.3M1856.9 1458.5H1863.3M1856.9 1495.7H1863.3M1906.5 1495.7V1502.1M1994.5 1495.7V1502.1M2080.8 1495.7V1502.1" fill="none" stroke="#000" stroke-width="2.8"/>
<text class="e" x="1856.4" y="1314.2" font-size="12.3">50</text>
<text class="e" x="1856.4" y="1351.4" font-size="12.3">40</text>
<text class="e" x="1856.4" y="1388.6" font-size="12.3">30</text>
<text class="e" x="1856.4" y="1425.8" font-size="12.3">20</text>
<text class="e" x="1856.4" y="1462.9" font-size="12.3">10</text>
<text class="e" x="1856.4" y="1500.1" font-size="12.3">0</text>
<text class="e" transform="translate(1910 1512.5) rotate(-45)" font-size="13.2">Control</text>
<text class="e" transform="translate(1998 1512.5) rotate(-45)" font-size="13.2">CD19-BBz(71)</text>
<text class="e" transform="translate(2084.3 1512.5) rotate(-45)" font-size="13.2">CD19-BBz(86)</text>
<line x1="1987.9" y1="1328.4" x2="2087.5" y2="1328.4" stroke="#000000" stroke-width="3"/>
<text class="n m" x="2033.4" y="1321.99" font-size="17.3">0.003</text>
<text class="m" transform="translate(1820.58 1404) rotate(-90)" font-size="14" textLength="162" lengthAdjust="spacingAndGlyphs">CAR+ T cells/ul of blood</text>
<text class="m" x="1996.2" y="1285.81" font-size="16.5" textLength="167" lengthAdjust="spacingAndGlyphs">Day 28 Post-infusion</text>
</svg>
</body></html>
